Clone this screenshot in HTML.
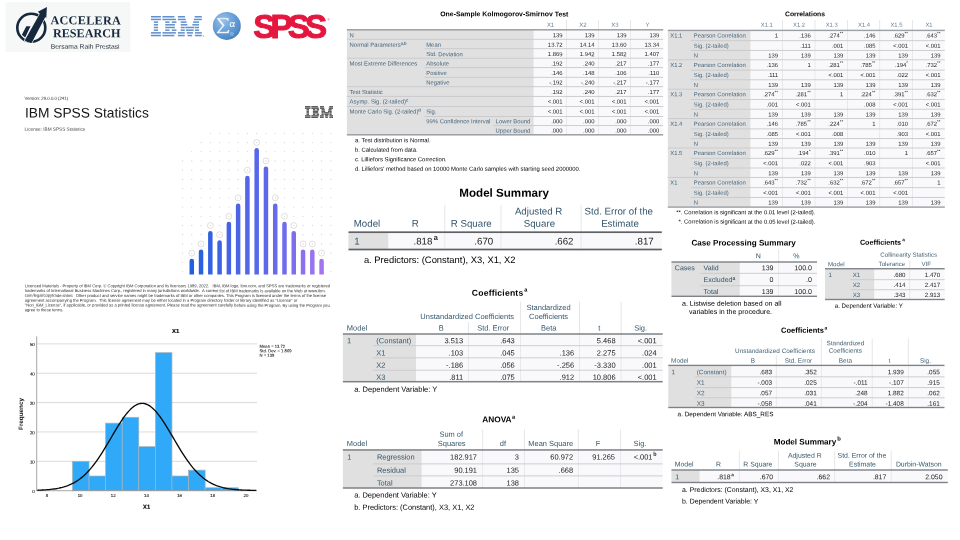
<!DOCTYPE html>
<html><head><meta charset="utf-8"><title>SPSS</title>
<style>
html,body{margin:0;padding:0;background:#fff;}
body{width:960px;height:540px;position:relative;overflow:hidden;font-family:"Liberation Sans",sans-serif;}
#pg{position:absolute;left:0;top:0;width:960px;height:540px;will-change:transform;}
.t{position:absolute;left:0;top:0;white-space:nowrap;transform-origin:0 0;}
.r{position:absolute;display:block;}
sup{font-size:70%;font-weight:bold;vertical-align:baseline;position:relative;top:-0.38em;line-height:0;}
</style></head><body><div id="pg">
<svg class="r" style="left:0;top:0" width="960" height="540" viewBox="0 0 960 540"><rect x="346.9" y="29.8" width="316.3" height="105.0" fill="#f9f9fb"/><rect x="346.9" y="29.8" width="186.7" height="105.0" fill="#e0e0e0"/><rect x="566.05" y="20" width="0.9" height="9.8" fill="#e4e4e6"/><rect x="566.05" y="29.8" width="0.9" height="105.0" fill="#e6e6ea"/><rect x="597.95" y="20" width="0.9" height="9.8" fill="#e4e4e6"/><rect x="597.95" y="29.8" width="0.9" height="105.0" fill="#e6e6ea"/><rect x="630.05" y="20" width="0.9" height="9.8" fill="#e4e4e6"/><rect x="630.05" y="29.8" width="0.9" height="105.0" fill="#e6e6ea"/><rect x="346.9" y="38.85" width="316.3" height="0.9" fill="#c9c9cb"/><rect x="424.5" y="48.25" width="238.7" height="0.9" fill="#c9c9cb"/><rect x="346.9" y="57.75" width="316.3" height="0.9" fill="#c9c9cb"/><rect x="424.5" y="67.15" width="238.7" height="0.9" fill="#c9c9cb"/><rect x="424.5" y="76.85" width="238.7" height="0.9" fill="#c9c9cb"/><rect x="346.9" y="86.25" width="316.3" height="0.9" fill="#c9c9cb"/><rect x="346.9" y="95.95" width="316.3" height="0.9" fill="#c9c9cb"/><rect x="346.9" y="106.0" width="316.3" height="0.9" fill="#c9c9cb"/><rect x="424.5" y="116.05" width="238.7" height="0.9" fill="#c9c9cb"/><rect x="493.5" y="125.15" width="169.7" height="0.9" fill="#c9c9cb"/><rect x="346.9" y="29.05" width="316.3" height="1.5" fill="#9ca0a4"/><rect x="346.9" y="134.05" width="316.3" height="1.5" fill="#9ca0a4"/><rect x="348.5" y="232.2" width="313.3" height="17.3" fill="#f9f9fb"/><rect x="348.5" y="232.2" width="39.7" height="17.3" fill="#e0e0e0"/><rect x="444.35" y="204.8" width="0.9" height="27.4" fill="#e4e4e6"/><rect x="444.35" y="232.2" width="0.9" height="17.3" fill="#e6e6ea"/><rect x="500.55" y="204.8" width="0.9" height="27.4" fill="#e4e4e6"/><rect x="500.55" y="232.2" width="0.9" height="17.3" fill="#e6e6ea"/><rect x="580.65" y="204.8" width="0.9" height="27.4" fill="#e4e4e6"/><rect x="580.65" y="232.2" width="0.9" height="17.3" fill="#e6e6ea"/><rect x="348.5" y="231.35" width="313.3" height="1.7" fill="#5e6266"/><rect x="348.5" y="248.65" width="313.3" height="1.7" fill="#5e6266"/><rect x="342.9" y="334.0" width="319.8" height="47.7" fill="#f9f9fb"/><rect x="342.9" y="334.0" width="73.1" height="47.7" fill="#e0e0e0"/><rect x="468.05" y="322" width="0.9" height="12.0" fill="#e4e4e6"/><rect x="468.05" y="334.0" width="0.9" height="47.7" fill="#e6e6ea"/><rect x="520.15" y="301.5" width="0.9" height="32.5" fill="#e4e4e6"/><rect x="520.15" y="334.0" width="0.9" height="47.7" fill="#e6e6ea"/><rect x="579.05" y="301.5" width="0.9" height="32.5" fill="#e4e4e6"/><rect x="579.05" y="334.0" width="0.9" height="47.7" fill="#e6e6ea"/><rect x="620.65" y="301.5" width="0.9" height="32.5" fill="#e4e4e6"/><rect x="620.65" y="334.0" width="0.9" height="47.7" fill="#e6e6ea"/><rect x="372.7" y="345.25" width="290.0" height="0.9" fill="#c9c9cb"/><rect x="372.7" y="357.4" width="290.0" height="0.9" fill="#c9c9cb"/><rect x="372.7" y="369.75" width="290.0" height="0.9" fill="#c9c9cb"/><rect x="342.9" y="333.25" width="319.8" height="1.5" fill="#7e8286"/><rect x="342.9" y="380.95" width="319.8" height="1.5" fill="#7e8286"/><rect x="342.9" y="449.95" width="319.8" height="38.05" fill="#f9f9fb"/><rect x="342.9" y="449.95" width="78.7" height="38.05" fill="#e0e0e0"/><rect x="482.25" y="429.4" width="0.9" height="20.55" fill="#e4e4e6"/><rect x="482.25" y="449.95" width="0.9" height="38.05" fill="#e6e6ea"/><rect x="523.95" y="429.4" width="0.9" height="20.55" fill="#e4e4e6"/><rect x="523.95" y="449.95" width="0.9" height="38.05" fill="#e6e6ea"/><rect x="577.85" y="429.4" width="0.9" height="20.55" fill="#e4e4e6"/><rect x="577.85" y="449.95" width="0.9" height="38.05" fill="#e6e6ea"/><rect x="620.15" y="429.4" width="0.9" height="20.55" fill="#e4e4e6"/><rect x="620.15" y="449.95" width="0.9" height="38.05" fill="#e6e6ea"/><rect x="373" y="463.45" width="289.7" height="0.9" fill="#c9c9cb"/><rect x="373" y="475.45" width="289.7" height="0.9" fill="#c9c9cb"/><rect x="342.9" y="449.2" width="319.8" height="1.5" fill="#7e8286"/><rect x="342.9" y="487.25" width="319.8" height="1.5" fill="#7e8286"/><rect x="667.8" y="30.4" width="277.0" height="176.7" fill="#f9f9fb"/><rect x="667.8" y="30.4" width="82.6" height="176.7" fill="#e0e0e0"/><rect x="781.95" y="20" width="0.9" height="10.4" fill="#e4e4e6"/><rect x="781.95" y="30.4" width="0.9" height="176.7" fill="#e6e6ea"/><rect x="814.55" y="20" width="0.9" height="10.4" fill="#e4e4e6"/><rect x="814.55" y="30.4" width="0.9" height="176.7" fill="#e6e6ea"/><rect x="847.15" y="20" width="0.9" height="10.4" fill="#e4e4e6"/><rect x="847.15" y="30.4" width="0.9" height="176.7" fill="#e6e6ea"/><rect x="879.25" y="20" width="0.9" height="10.4" fill="#e4e4e6"/><rect x="879.25" y="30.4" width="0.9" height="176.7" fill="#e6e6ea"/><rect x="911.95" y="20" width="0.9" height="10.4" fill="#e4e4e6"/><rect x="911.95" y="30.4" width="0.9" height="176.7" fill="#e6e6ea"/><rect x="690.8" y="40.25" width="254.0" height="0.9" fill="#c9c9cb"/><rect x="690.8" y="49.95" width="254.0" height="0.9" fill="#c9c9cb"/><rect x="667.8" y="59.35" width="277.0" height="0.9" fill="#c9c9cb"/><rect x="690.8" y="69.65" width="254.0" height="0.9" fill="#c9c9cb"/><rect x="690.8" y="79.35" width="254.0" height="0.9" fill="#c9c9cb"/><rect x="667.8" y="88.75" width="277.0" height="0.9" fill="#c9c9cb"/><rect x="690.8" y="99.05" width="254.0" height="0.9" fill="#c9c9cb"/><rect x="690.8" y="108.75" width="254.0" height="0.9" fill="#c9c9cb"/><rect x="667.8" y="118.15" width="277.0" height="0.9" fill="#c9c9cb"/><rect x="690.8" y="128.45" width="254.0" height="0.9" fill="#c9c9cb"/><rect x="690.8" y="138.15" width="254.0" height="0.9" fill="#c9c9cb"/><rect x="667.8" y="147.55" width="277.0" height="0.9" fill="#c9c9cb"/><rect x="690.8" y="157.85" width="254.0" height="0.9" fill="#c9c9cb"/><rect x="690.8" y="167.55" width="254.0" height="0.9" fill="#c9c9cb"/><rect x="667.8" y="176.95" width="277.0" height="0.9" fill="#c9c9cb"/><rect x="690.8" y="187.25" width="254.0" height="0.9" fill="#c9c9cb"/><rect x="690.8" y="196.95" width="254.0" height="0.9" fill="#c9c9cb"/><rect x="667.8" y="29.7" width="277.0" height="1.4" fill="#9ca0a4"/><rect x="667.8" y="206.4" width="277.0" height="1.4" fill="#9ca0a4"/><rect x="671.5" y="262.0" width="145.5" height="34.3" fill="#f9f9fb"/><rect x="671.5" y="262.0" width="68.3" height="34.3" fill="#e0e0e0"/><rect x="778.25" y="249.5" width="0.9" height="12.5" fill="#e4e4e6"/><rect x="778.25" y="262.0" width="0.9" height="34.3" fill="#e6e6ea"/><rect x="700.3" y="272.85" width="116.7" height="0.9" fill="#c9c9cb"/><rect x="700.3" y="285.25" width="116.7" height="0.9" fill="#c9c9cb"/><rect x="671.5" y="261.3" width="145.5" height="1.4" fill="#7e8286"/><rect x="671.5" y="295.6" width="145.5" height="1.4" fill="#7e8286"/><rect x="825.0" y="268.75" width="119.7" height="30.75" fill="#f9f9fb"/><rect x="825.0" y="268.75" width="49.2" height="30.75" fill="#e0e0e0"/><rect x="909.3" y="260.5" width="0.9" height="8.25" fill="#e4e4e6"/><rect x="909.3" y="268.75" width="0.9" height="30.75" fill="#e6e6ea"/><rect x="850.2" y="279.25" width="94.5" height="0.9" fill="#c9c9cb"/><rect x="850.2" y="289.3" width="94.5" height="0.9" fill="#c9c9cb"/><rect x="825.0" y="268.07" width="119.7" height="1.35" fill="#7e8286"/><rect x="825.0" y="298.82" width="119.7" height="1.35" fill="#7e8286"/><rect x="668.3" y="365.4" width="276.2" height="42.1" fill="#f9f9fb"/><rect x="668.3" y="365.4" width="63.0" height="42.1" fill="#e0e0e0"/><rect x="775.85" y="355.2" width="0.9" height="10.2" fill="#e4e4e6"/><rect x="775.85" y="365.4" width="0.9" height="42.1" fill="#e6e6ea"/><rect x="820.85" y="338.5" width="0.9" height="26.9" fill="#e4e4e6"/><rect x="820.85" y="365.4" width="0.9" height="42.1" fill="#e6e6ea"/><rect x="871.75" y="338.5" width="0.9" height="26.9" fill="#e4e4e6"/><rect x="871.75" y="365.4" width="0.9" height="42.1" fill="#e6e6ea"/><rect x="907.85" y="338.5" width="0.9" height="26.9" fill="#e4e4e6"/><rect x="907.85" y="365.4" width="0.9" height="42.1" fill="#e6e6ea"/><rect x="695.2" y="376.4" width="249.3" height="0.9" fill="#c9c9cb"/><rect x="695.2" y="387.15" width="249.3" height="0.9" fill="#c9c9cb"/><rect x="695.2" y="397.35" width="249.3" height="0.9" fill="#c9c9cb"/><rect x="668.3" y="364.72" width="276.2" height="1.35" fill="#7e8286"/><rect x="668.3" y="406.82" width="276.2" height="1.35" fill="#7e8286"/><rect x="671.5" y="470.0" width="276.3" height="12.5" fill="#f9f9fb"/><rect x="671.5" y="470.0" width="28.0" height="12.5" fill="#e0e0e0"/><rect x="738.85" y="450.8" width="0.9" height="19.2" fill="#e4e4e6"/><rect x="738.85" y="470.0" width="0.9" height="12.5" fill="#e6e6ea"/><rect x="778.05" y="450.8" width="0.9" height="19.2" fill="#e4e4e6"/><rect x="778.05" y="470.0" width="0.9" height="12.5" fill="#e6e6ea"/><rect x="834.25" y="450.8" width="0.9" height="19.2" fill="#e4e4e6"/><rect x="834.25" y="470.0" width="0.9" height="12.5" fill="#e6e6ea"/><rect x="890.75" y="450.8" width="0.9" height="19.2" fill="#e4e4e6"/><rect x="890.75" y="470.0" width="0.9" height="12.5" fill="#e6e6ea"/><rect x="671.5" y="469.3" width="276.3" height="1.4" fill="#7e8286"/><rect x="671.5" y="481.8" width="276.3" height="1.4" fill="#7e8286"/><rect x="5.5" y="1.9" width="124.8" height="49.9" fill="#f6f7f7"/></svg>
<span class="t" style="font-size:6.9px;line-height:8.28px;color:#000;font-weight:bold;transform:translate(504.3px,10.32px) translateX(-50%) matrix(1,0.0005,0,1,0,0);">One-Sample Kolmogorov-Smirnov Test</span>
<span class="t" style="font-size:5.9px;line-height:7.08px;color:#647c8d;transform:translate(550.55px,21.87px) translateX(-50%) matrix(1,0.0005,0,1,0,0);">X1</span>
<span class="t" style="font-size:5.9px;line-height:7.08px;color:#647c8d;transform:translate(582.95px,21.87px) translateX(-50%) matrix(1,0.0005,0,1,0,0);">X2</span>
<span class="t" style="font-size:5.9px;line-height:7.08px;color:#647c8d;transform:translate(614.95px,21.87px) translateX(-50%) matrix(1,0.0005,0,1,0,0);">X3</span>
<span class="t" style="font-size:5.9px;line-height:7.08px;color:#647c8d;transform:translate(647.35px,21.87px) translateX(-50%) matrix(1,0.0005,0,1,0,0);">Y</span>
<span class="t" style="font-size:5.9px;line-height:7.08px;color:#45647a;transform:translate(349.6px,32.27px) matrix(1,0.0005,0,1,0,0);">N</span>
<span class="t" style="font-size:5.9px;line-height:7.08px;color:#1a1a1a;transform:translate(562.6px,32.27px) translateX(-100%) matrix(1,0.0005,0,1,0,0);">139</span>
<span class="t" style="font-size:5.9px;line-height:7.08px;color:#1a1a1a;transform:translate(594.5px,32.27px) translateX(-100%) matrix(1,0.0005,0,1,0,0);">139</span>
<span class="t" style="font-size:5.9px;line-height:7.08px;color:#1a1a1a;transform:translate(626.6px,32.27px) translateX(-100%) matrix(1,0.0005,0,1,0,0);">139</span>
<span class="t" style="font-size:5.9px;line-height:7.08px;color:#1a1a1a;transform:translate(659.3px,32.27px) translateX(-100%) matrix(1,0.0005,0,1,0,0);">139</span>
<span class="t" style="font-size:5.9px;line-height:7.08px;color:#45647a;transform:translate(349.6px,41.67px) matrix(1,0.0005,0,1,0,0);">Normal Parameters<sup>a,b</sup></span>
<span class="t" style="font-size:5.9px;line-height:7.08px;color:#45647a;transform:translate(426.2px,41.67px) matrix(1,0.0005,0,1,0,0);">Mean</span>
<span class="t" style="font-size:5.9px;line-height:7.08px;color:#1a1a1a;transform:translate(562.6px,41.67px) translateX(-100%) matrix(1,0.0005,0,1,0,0);">13.72</span>
<span class="t" style="font-size:5.9px;line-height:7.08px;color:#1a1a1a;transform:translate(594.5px,41.67px) translateX(-100%) matrix(1,0.0005,0,1,0,0);">14.14</span>
<span class="t" style="font-size:5.9px;line-height:7.08px;color:#1a1a1a;transform:translate(626.6px,41.67px) translateX(-100%) matrix(1,0.0005,0,1,0,0);">13.60</span>
<span class="t" style="font-size:5.9px;line-height:7.08px;color:#1a1a1a;transform:translate(659.3px,41.67px) translateX(-100%) matrix(1,0.0005,0,1,0,0);">13.34</span>
<span class="t" style="font-size:5.9px;line-height:7.08px;color:#45647a;transform:translate(426.2px,51.12px) matrix(1,0.0005,0,1,0,0);">Std. Deviation</span>
<span class="t" style="font-size:5.9px;line-height:7.08px;color:#1a1a1a;transform:translate(562.6px,51.12px) translateX(-100%) matrix(1,0.0005,0,1,0,0);">1.869</span>
<span class="t" style="font-size:5.9px;line-height:7.08px;color:#1a1a1a;transform:translate(594.5px,51.12px) translateX(-100%) matrix(1,0.0005,0,1,0,0);">1.942</span>
<span class="t" style="font-size:5.9px;line-height:7.08px;color:#1a1a1a;transform:translate(626.6px,51.12px) translateX(-100%) matrix(1,0.0005,0,1,0,0);">1.582</span>
<span class="t" style="font-size:5.9px;line-height:7.08px;color:#1a1a1a;transform:translate(659.3px,51.12px) translateX(-100%) matrix(1,0.0005,0,1,0,0);">1.407</span>
<span class="t" style="font-size:5.9px;line-height:7.08px;color:#45647a;transform:translate(349.6px,60.57px) matrix(1,0.0005,0,1,0,0);">Most Extreme Differences</span>
<span class="t" style="font-size:5.9px;line-height:7.08px;color:#45647a;transform:translate(426.2px,60.57px) matrix(1,0.0005,0,1,0,0);">Absolute</span>
<span class="t" style="font-size:5.9px;line-height:7.08px;color:#1a1a1a;transform:translate(562.6px,60.57px) translateX(-100%) matrix(1,0.0005,0,1,0,0);">.192</span>
<span class="t" style="font-size:5.9px;line-height:7.08px;color:#1a1a1a;transform:translate(594.5px,60.57px) translateX(-100%) matrix(1,0.0005,0,1,0,0);">.240</span>
<span class="t" style="font-size:5.9px;line-height:7.08px;color:#1a1a1a;transform:translate(626.6px,60.57px) translateX(-100%) matrix(1,0.0005,0,1,0,0);">.217</span>
<span class="t" style="font-size:5.9px;line-height:7.08px;color:#1a1a1a;transform:translate(659.3px,60.57px) translateX(-100%) matrix(1,0.0005,0,1,0,0);">.177</span>
<span class="t" style="font-size:5.9px;line-height:7.08px;color:#45647a;transform:translate(426.2px,69.97px) matrix(1,0.0005,0,1,0,0);">Positive</span>
<span class="t" style="font-size:5.9px;line-height:7.08px;color:#1a1a1a;transform:translate(562.6px,69.97px) translateX(-100%) matrix(1,0.0005,0,1,0,0);">.146</span>
<span class="t" style="font-size:5.9px;line-height:7.08px;color:#1a1a1a;transform:translate(594.5px,69.97px) translateX(-100%) matrix(1,0.0005,0,1,0,0);">.148</span>
<span class="t" style="font-size:5.9px;line-height:7.08px;color:#1a1a1a;transform:translate(626.6px,69.97px) translateX(-100%) matrix(1,0.0005,0,1,0,0);">.106</span>
<span class="t" style="font-size:5.9px;line-height:7.08px;color:#1a1a1a;transform:translate(659.3px,69.97px) translateX(-100%) matrix(1,0.0005,0,1,0,0);">.110</span>
<span class="t" style="font-size:5.9px;line-height:7.08px;color:#45647a;transform:translate(426.2px,79.47px) matrix(1,0.0005,0,1,0,0);">Negative</span>
<span class="t" style="font-size:5.9px;line-height:7.08px;color:#1a1a1a;transform:translate(562.6px,79.47px) translateX(-100%) matrix(1,0.0005,0,1,0,0);">-.192</span>
<span class="t" style="font-size:5.9px;line-height:7.08px;color:#1a1a1a;transform:translate(594.5px,79.47px) translateX(-100%) matrix(1,0.0005,0,1,0,0);">-.240</span>
<span class="t" style="font-size:5.9px;line-height:7.08px;color:#1a1a1a;transform:translate(626.6px,79.47px) translateX(-100%) matrix(1,0.0005,0,1,0,0);">-.217</span>
<span class="t" style="font-size:5.9px;line-height:7.08px;color:#1a1a1a;transform:translate(659.3px,79.47px) translateX(-100%) matrix(1,0.0005,0,1,0,0);">-.177</span>
<span class="t" style="font-size:5.9px;line-height:7.08px;color:#45647a;transform:translate(349.6px,89.07px) matrix(1,0.0005,0,1,0,0);">Test Statistic</span>
<span class="t" style="font-size:5.9px;line-height:7.08px;color:#1a1a1a;transform:translate(562.6px,89.07px) translateX(-100%) matrix(1,0.0005,0,1,0,0);">.192</span>
<span class="t" style="font-size:5.9px;line-height:7.08px;color:#1a1a1a;transform:translate(594.5px,89.07px) translateX(-100%) matrix(1,0.0005,0,1,0,0);">.240</span>
<span class="t" style="font-size:5.9px;line-height:7.08px;color:#1a1a1a;transform:translate(626.6px,89.07px) translateX(-100%) matrix(1,0.0005,0,1,0,0);">.217</span>
<span class="t" style="font-size:5.9px;line-height:7.08px;color:#1a1a1a;transform:translate(659.3px,89.07px) translateX(-100%) matrix(1,0.0005,0,1,0,0);">.177</span>
<span class="t" style="font-size:5.9px;line-height:7.08px;color:#45647a;transform:translate(349.6px,98.57px) matrix(1,0.0005,0,1,0,0);">Asymp. Sig. (2-tailed)<sup>c</sup></span>
<span class="t" style="font-size:5.9px;line-height:7.08px;color:#1a1a1a;transform:translate(562.6px,98.57px) translateX(-100%) matrix(1,0.0005,0,1,0,0);">&lt;.001</span>
<span class="t" style="font-size:5.9px;line-height:7.08px;color:#1a1a1a;transform:translate(594.5px,98.57px) translateX(-100%) matrix(1,0.0005,0,1,0,0);">&lt;.001</span>
<span class="t" style="font-size:5.9px;line-height:7.08px;color:#1a1a1a;transform:translate(626.6px,98.57px) translateX(-100%) matrix(1,0.0005,0,1,0,0);">&lt;.001</span>
<span class="t" style="font-size:5.9px;line-height:7.08px;color:#1a1a1a;transform:translate(659.3px,98.57px) translateX(-100%) matrix(1,0.0005,0,1,0,0);">&lt;.001</span>
<span class="t" style="font-size:5.9px;line-height:7.08px;color:#45647a;transform:translate(349.6px,108.57px) matrix(1,0.0005,0,1,0,0);">Monte Carlo Sig. (2-tailed)<sup>d</sup></span>
<span class="t" style="font-size:5.9px;line-height:7.08px;color:#45647a;transform:translate(426.2px,108.57px) matrix(1,0.0005,0,1,0,0);">Sig.</span>
<span class="t" style="font-size:5.9px;line-height:7.08px;color:#1a1a1a;transform:translate(562.6px,108.57px) translateX(-100%) matrix(1,0.0005,0,1,0,0);">&lt;.001</span>
<span class="t" style="font-size:5.9px;line-height:7.08px;color:#1a1a1a;transform:translate(594.5px,108.57px) translateX(-100%) matrix(1,0.0005,0,1,0,0);">&lt;.001</span>
<span class="t" style="font-size:5.9px;line-height:7.08px;color:#1a1a1a;transform:translate(626.6px,108.57px) translateX(-100%) matrix(1,0.0005,0,1,0,0);">&lt;.001</span>
<span class="t" style="font-size:5.9px;line-height:7.08px;color:#1a1a1a;transform:translate(659.3px,108.57px) translateX(-100%) matrix(1,0.0005,0,1,0,0);">&lt;.001</span>
<span class="t" style="font-size:5.9px;line-height:7.08px;color:#45647a;transform:translate(426.2px,118.17px) matrix(1,0.0005,0,1,0,0);">99% Confidence Interval</span>
<span class="t" style="font-size:5.9px;line-height:7.08px;color:#45647a;transform:translate(495.6px,118.17px) matrix(1,0.0005,0,1,0,0);">Lower Bound</span>
<span class="t" style="font-size:5.9px;line-height:7.08px;color:#1a1a1a;transform:translate(562.6px,118.17px) translateX(-100%) matrix(1,0.0005,0,1,0,0);">.000</span>
<span class="t" style="font-size:5.9px;line-height:7.08px;color:#1a1a1a;transform:translate(594.5px,118.17px) translateX(-100%) matrix(1,0.0005,0,1,0,0);">.000</span>
<span class="t" style="font-size:5.9px;line-height:7.08px;color:#1a1a1a;transform:translate(626.6px,118.17px) translateX(-100%) matrix(1,0.0005,0,1,0,0);">.000</span>
<span class="t" style="font-size:5.9px;line-height:7.08px;color:#1a1a1a;transform:translate(659.3px,118.17px) translateX(-100%) matrix(1,0.0005,0,1,0,0);">.000</span>
<span class="t" style="font-size:5.9px;line-height:7.08px;color:#45647a;transform:translate(495.6px,127.62px) matrix(1,0.0005,0,1,0,0);">Upper Bound</span>
<span class="t" style="font-size:5.9px;line-height:7.08px;color:#1a1a1a;transform:translate(562.6px,127.62px) translateX(-100%) matrix(1,0.0005,0,1,0,0);">.000</span>
<span class="t" style="font-size:5.9px;line-height:7.08px;color:#1a1a1a;transform:translate(594.5px,127.62px) translateX(-100%) matrix(1,0.0005,0,1,0,0);">.000</span>
<span class="t" style="font-size:5.9px;line-height:7.08px;color:#1a1a1a;transform:translate(626.6px,127.62px) translateX(-100%) matrix(1,0.0005,0,1,0,0);">.000</span>
<span class="t" style="font-size:5.9px;line-height:7.08px;color:#1a1a1a;transform:translate(659.3px,127.62px) translateX(-100%) matrix(1,0.0005,0,1,0,0);">.000</span>
<span class="t" style="font-size:5.9px;line-height:7.08px;color:#000;transform:translate(355px,137.17px) matrix(1,0.0005,0,1,0,0);">a. Test distribution is Normal.</span>
<span class="t" style="font-size:5.9px;line-height:7.08px;color:#000;transform:translate(355px,146.7px) matrix(1,0.0005,0,1,0,0);">b. Calculated from data.</span>
<span class="t" style="font-size:5.9px;line-height:7.08px;color:#000;transform:translate(355px,156.23px) matrix(1,0.0005,0,1,0,0);">c. Lilliefors Significance Correction.</span>
<span class="t" style="font-size:5.9px;line-height:7.08px;color:#000;transform:translate(355px,165.76px) matrix(1,0.0005,0,1,0,0);">d. Lilliefors' method based on 10000 Monte Carlo samples with starting seed 2000000.</span>
<span class="t" style="font-size:11.6px;line-height:13.92px;color:#000;font-weight:bold;transform:translate(504.1px,185.71px) translateX(-50%) matrix(1,0.0005,0,1,0,0);">Model Summary</span>
<span class="t" style="font-size:9.7px;line-height:11.64px;color:#33566d;transform:translate(353.8px,217.71px) matrix(1,0.0005,0,1,0,0);">Model</span>
<span class="t" style="font-size:9.7px;line-height:11.64px;color:#33566d;transform:translate(415.3px,217.71px) translateX(-50%) matrix(1,0.0005,0,1,0,0);">R</span>
<span class="t" style="font-size:9.7px;line-height:11.64px;color:#33566d;transform:translate(471.3px,217.71px) translateX(-50%) matrix(1,0.0005,0,1,0,0);">R Square</span>
<span class="t" style="font-size:9.7px;line-height:11.64px;color:#33566d;transform:translate(538.6px,205.51px) translateX(-50%) matrix(1,0.0005,0,1,0,0);">Adjusted R</span>
<span class="t" style="font-size:9.7px;line-height:11.64px;color:#33566d;transform:translate(539.4px,217.71px) translateX(-50%) matrix(1,0.0005,0,1,0,0);">Square</span>
<span class="t" style="font-size:9.7px;line-height:11.64px;color:#33566d;transform:translate(618.8px,205.51px) translateX(-50%) matrix(1,0.0005,0,1,0,0);">Std. Error of the</span>
<span class="t" style="font-size:9.7px;line-height:11.64px;color:#33566d;transform:translate(620.0px,217.71px) translateX(-50%) matrix(1,0.0005,0,1,0,0);">Estimate</span>
<span class="t" style="font-size:9.7px;line-height:11.64px;color:#33566d;transform:translate(354.3px,235.61px) matrix(1,0.0005,0,1,0,0);">1</span>
<span class="t" style="font-size:9.7px;line-height:11.64px;color:#1a1a1a;transform:translate(432.4px,235.61px) translateX(-100%) matrix(1,0.0005,0,1,0,0);">.818</span>
<span class="t" style="font-size:7.4px;line-height:8.88px;color:#1a1a1a;font-weight:bold;transform:translate(433.7px,233.96px) matrix(1,0.0005,0,1,0,0);">a</span>
<span class="t" style="font-size:9.7px;line-height:11.64px;color:#1a1a1a;transform:translate(493.2px,235.61px) translateX(-100%) matrix(1,0.0005,0,1,0,0);">.670</span>
<span class="t" style="font-size:9.7px;line-height:11.64px;color:#1a1a1a;transform:translate(573.5px,235.61px) translateX(-100%) matrix(1,0.0005,0,1,0,0);">.662</span>
<span class="t" style="font-size:9.7px;line-height:11.64px;color:#1a1a1a;transform:translate(653.7px,235.61px) translateX(-100%) matrix(1,0.0005,0,1,0,0);">.817</span>
<span class="t" style="font-size:9.4px;line-height:11.28px;color:#000;transform:translate(363.9px,253.97px) matrix(1,0.0005,0,1,0,0);">a. Predictors: (Constant), X3, X1, X2</span>
<span class="t" style="font-size:8.6px;line-height:10.32px;color:#000;font-weight:bold;transform:translate(497.6px,287.75px) translateX(-50%) matrix(1,0.0005,0,1,0,0);letter-spacing:0.2px;">Coefficients</span>
<span class="t" style="font-size:5.6px;line-height:6.72px;color:#000;font-weight:bold;transform:translate(524.3px,286.5px) matrix(1,0.0005,0,1,0,0);">a</span>
<span class="t" style="font-size:7.5px;line-height:9.0px;color:#33566d;transform:translate(346.8px,323.43px) matrix(1,0.0005,0,1,0,0);">Model</span>
<span class="t" style="font-size:7.5px;line-height:9.0px;color:#33566d;transform:translate(467.2px,311.93px) translateX(-50%) matrix(1,0.0005,0,1,0,0);">Unstandardized Coefficients</span>
<span class="t" style="font-size:7.5px;line-height:9.0px;color:#33566d;transform:translate(548.6px,302.93px) translateX(-50%) matrix(1,0.0005,0,1,0,0);">Standardized</span>
<span class="t" style="font-size:7.5px;line-height:9.0px;color:#33566d;transform:translate(548.6px,311.93px) translateX(-50%) matrix(1,0.0005,0,1,0,0);">Coefficients</span>
<span class="t" style="font-size:7.5px;line-height:9.0px;color:#33566d;transform:translate(441.2px,323.43px) translateX(-50%) matrix(1,0.0005,0,1,0,0);">B</span>
<span class="t" style="font-size:7.5px;line-height:9.0px;color:#33566d;transform:translate(493.2px,323.43px) translateX(-50%) matrix(1,0.0005,0,1,0,0);">Std. Error</span>
<span class="t" style="font-size:7.5px;line-height:9.0px;color:#33566d;transform:translate(548.7px,323.43px) translateX(-50%) matrix(1,0.0005,0,1,0,0);">Beta</span>
<span class="t" style="font-size:7.5px;line-height:9.0px;color:#33566d;transform:translate(599.3px,323.43px) translateX(-50%) matrix(1,0.0005,0,1,0,0);">t</span>
<span class="t" style="font-size:7.5px;line-height:9.0px;color:#33566d;transform:translate(640.6px,323.43px) translateX(-50%) matrix(1,0.0005,0,1,0,0);">Sig.</span>
<span class="t" style="font-size:7.5px;line-height:9.0px;color:#33566d;transform:translate(347.0px,336.13px) matrix(1,0.0005,0,1,0,0);">1</span>
<span class="t" style="font-size:7.5px;line-height:9.0px;color:#33566d;transform:translate(376.3px,336.13px) matrix(1,0.0005,0,1,0,0);">(Constant)</span>
<span class="t" style="font-size:7.5px;line-height:9.0px;color:#1a1a1a;transform:translate(463.2px,336.13px) translateX(-100%) matrix(1,0.0005,0,1,0,0);">3.513</span>
<span class="t" style="font-size:7.5px;line-height:9.0px;color:#1a1a1a;transform:translate(514.8px,336.13px) translateX(-100%) matrix(1,0.0005,0,1,0,0);">.643</span>
<span class="t" style="font-size:7.5px;line-height:9.0px;color:#1a1a1a;transform:translate(615.6px,336.13px) translateX(-100%) matrix(1,0.0005,0,1,0,0);">5.468</span>
<span class="t" style="font-size:7.5px;line-height:9.0px;color:#1a1a1a;transform:translate(656.7px,336.13px) translateX(-100%) matrix(1,0.0005,0,1,0,0);">&lt;.001</span>
<span class="t" style="font-size:7.5px;line-height:9.0px;color:#33566d;transform:translate(376.3px,348.43px) matrix(1,0.0005,0,1,0,0);">X1</span>
<span class="t" style="font-size:7.5px;line-height:9.0px;color:#1a1a1a;transform:translate(463.2px,348.43px) translateX(-100%) matrix(1,0.0005,0,1,0,0);">.103</span>
<span class="t" style="font-size:7.5px;line-height:9.0px;color:#1a1a1a;transform:translate(514.8px,348.43px) translateX(-100%) matrix(1,0.0005,0,1,0,0);">.045</span>
<span class="t" style="font-size:7.5px;line-height:9.0px;color:#1a1a1a;transform:translate(574.2px,348.43px) translateX(-100%) matrix(1,0.0005,0,1,0,0);">.136</span>
<span class="t" style="font-size:7.5px;line-height:9.0px;color:#1a1a1a;transform:translate(615.6px,348.43px) translateX(-100%) matrix(1,0.0005,0,1,0,0);">2.275</span>
<span class="t" style="font-size:7.5px;line-height:9.0px;color:#1a1a1a;transform:translate(656.7px,348.43px) translateX(-100%) matrix(1,0.0005,0,1,0,0);">.024</span>
<span class="t" style="font-size:7.5px;line-height:9.0px;color:#33566d;transform:translate(376.3px,360.63px) matrix(1,0.0005,0,1,0,0);">X2</span>
<span class="t" style="font-size:7.5px;line-height:9.0px;color:#1a1a1a;transform:translate(463.2px,360.63px) translateX(-100%) matrix(1,0.0005,0,1,0,0);">-.186</span>
<span class="t" style="font-size:7.5px;line-height:9.0px;color:#1a1a1a;transform:translate(514.8px,360.63px) translateX(-100%) matrix(1,0.0005,0,1,0,0);">.056</span>
<span class="t" style="font-size:7.5px;line-height:9.0px;color:#1a1a1a;transform:translate(574.2px,360.63px) translateX(-100%) matrix(1,0.0005,0,1,0,0);">-.256</span>
<span class="t" style="font-size:7.5px;line-height:9.0px;color:#1a1a1a;transform:translate(615.6px,360.63px) translateX(-100%) matrix(1,0.0005,0,1,0,0);">-3.330</span>
<span class="t" style="font-size:7.5px;line-height:9.0px;color:#1a1a1a;transform:translate(656.7px,360.63px) translateX(-100%) matrix(1,0.0005,0,1,0,0);">.001</span>
<span class="t" style="font-size:7.5px;line-height:9.0px;color:#33566d;transform:translate(376.3px,372.63px) matrix(1,0.0005,0,1,0,0);">X3</span>
<span class="t" style="font-size:7.5px;line-height:9.0px;color:#1a1a1a;transform:translate(463.2px,372.63px) translateX(-100%) matrix(1,0.0005,0,1,0,0);">.811</span>
<span class="t" style="font-size:7.5px;line-height:9.0px;color:#1a1a1a;transform:translate(514.8px,372.63px) translateX(-100%) matrix(1,0.0005,0,1,0,0);">.075</span>
<span class="t" style="font-size:7.5px;line-height:9.0px;color:#1a1a1a;transform:translate(574.2px,372.63px) translateX(-100%) matrix(1,0.0005,0,1,0,0);">.912</span>
<span class="t" style="font-size:7.5px;line-height:9.0px;color:#1a1a1a;transform:translate(615.6px,372.63px) translateX(-100%) matrix(1,0.0005,0,1,0,0);">10.806</span>
<span class="t" style="font-size:7.5px;line-height:9.0px;color:#1a1a1a;transform:translate(656.7px,372.63px) translateX(-100%) matrix(1,0.0005,0,1,0,0);">&lt;.001</span>
<span class="t" style="font-size:7.5px;line-height:9.0px;color:#000;transform:translate(354.2px,384.73px) matrix(1,0.0005,0,1,0,0);">a. Dependent Variable: Y</span>
<span class="t" style="font-size:8.3px;line-height:9.96px;color:#000;font-weight:bold;transform:translate(496.9px,415.33px) translateX(-50%) matrix(1,0.0005,0,1,0,0);">ANOVA</span>
<span class="t" style="font-size:5.6px;line-height:6.72px;color:#000;font-weight:bold;transform:translate(511.9px,413.8px) matrix(1,0.0005,0,1,0,0);">a</span>
<span class="t" style="font-size:7.45px;line-height:8.94px;color:#33566d;transform:translate(346.8px,439.9px) matrix(1,0.0005,0,1,0,0);">Model</span>
<span class="t" style="font-size:7.45px;line-height:8.94px;color:#33566d;transform:translate(451.2px,430.8px) translateX(-50%) matrix(1,0.0005,0,1,0,0);">Sum of</span>
<span class="t" style="font-size:7.45px;line-height:8.94px;color:#33566d;transform:translate(451.7px,439.9px) translateX(-50%) matrix(1,0.0005,0,1,0,0);">Squares</span>
<span class="t" style="font-size:7.45px;line-height:8.94px;color:#33566d;transform:translate(502.9px,439.9px) translateX(-50%) matrix(1,0.0005,0,1,0,0);">df</span>
<span class="t" style="font-size:7.45px;line-height:8.94px;color:#33566d;transform:translate(550.7px,439.9px) translateX(-50%) matrix(1,0.0005,0,1,0,0);">Mean Square</span>
<span class="t" style="font-size:7.45px;line-height:8.94px;color:#33566d;transform:translate(597.9px,439.9px) translateX(-50%) matrix(1,0.0005,0,1,0,0);">F</span>
<span class="t" style="font-size:7.45px;line-height:8.94px;color:#33566d;transform:translate(640.0px,439.9px) translateX(-50%) matrix(1,0.0005,0,1,0,0);">Sig.</span>
<span class="t" style="font-size:7.45px;line-height:8.94px;color:#33566d;transform:translate(347.2px,453.5px) matrix(1,0.0005,0,1,0,0);">1</span>
<span class="t" style="font-size:7.45px;line-height:8.94px;color:#33566d;transform:translate(376.9px,453.5px) matrix(1,0.0005,0,1,0,0);">Regression</span>
<span class="t" style="font-size:7.45px;line-height:8.94px;color:#1a1a1a;transform:translate(477.0px,453.5px) translateX(-100%) matrix(1,0.0005,0,1,0,0);">182.917</span>
<span class="t" style="font-size:7.45px;line-height:8.94px;color:#1a1a1a;transform:translate(519.0px,453.5px) translateX(-100%) matrix(1,0.0005,0,1,0,0);">3</span>
<span class="t" style="font-size:7.45px;line-height:8.94px;color:#1a1a1a;transform:translate(573.1px,453.5px) translateX(-100%) matrix(1,0.0005,0,1,0,0);">60.972</span>
<span class="t" style="font-size:7.45px;line-height:8.94px;color:#1a1a1a;transform:translate(615.0px,453.5px) translateX(-100%) matrix(1,0.0005,0,1,0,0);">91.265</span>
<span class="t" style="font-size:7.45px;line-height:8.94px;color:#1a1a1a;transform:translate(652.5px,453.5px) translateX(-100%) matrix(1,0.0005,0,1,0,0);">&lt;.001</span>
<span class="t" style="font-size:7.45px;line-height:8.94px;color:#33566d;transform:translate(376.9px,466.85px) matrix(1,0.0005,0,1,0,0);">Residual</span>
<span class="t" style="font-size:7.45px;line-height:8.94px;color:#1a1a1a;transform:translate(477.0px,466.85px) translateX(-100%) matrix(1,0.0005,0,1,0,0);">90.191</span>
<span class="t" style="font-size:7.45px;line-height:8.94px;color:#1a1a1a;transform:translate(519.0px,466.85px) translateX(-100%) matrix(1,0.0005,0,1,0,0);">135</span>
<span class="t" style="font-size:7.45px;line-height:8.94px;color:#1a1a1a;transform:translate(573.1px,466.85px) translateX(-100%) matrix(1,0.0005,0,1,0,0);">.668</span>
<span class="t" style="font-size:7.45px;line-height:8.94px;color:#33566d;transform:translate(376.9px,479.4px) matrix(1,0.0005,0,1,0,0);">Total</span>
<span class="t" style="font-size:7.45px;line-height:8.94px;color:#1a1a1a;transform:translate(477.0px,479.4px) translateX(-100%) matrix(1,0.0005,0,1,0,0);">273.108</span>
<span class="t" style="font-size:7.45px;line-height:8.94px;color:#1a1a1a;transform:translate(519.0px,479.4px) translateX(-100%) matrix(1,0.0005,0,1,0,0);">138</span>
<span class="t" style="font-size:5.4px;line-height:6.48px;color:#1a1a1a;font-weight:bold;transform:translate(653.3px,450.84px) matrix(1,0.0005,0,1,0,0);">b</span>
<span class="t" style="font-size:7.45px;line-height:8.94px;color:#000;transform:translate(354.2px,491.5px) matrix(1,0.0005,0,1,0,0);">a. Dependent Variable: Y</span>
<span class="t" style="font-size:7.45px;line-height:8.94px;color:#000;transform:translate(354.2px,503.8px) matrix(1,0.0005,0,1,0,0);">b. Predictors: (Constant), X3, X1, X2</span>
<span class="t" style="font-size:6.8px;line-height:8.16px;color:#000;font-weight:bold;transform:translate(805px,10.25px) translateX(-50%) matrix(1,0.0005,0,1,0,0);">Correlations</span>
<span class="t" style="font-size:5.85px;line-height:7.02px;color:#647c8d;transform:translate(766.8px,21.65px) translateX(-50%) matrix(1,0.0005,0,1,0,0);">X1.1</span>
<span class="t" style="font-size:5.85px;line-height:7.02px;color:#647c8d;transform:translate(799.1px,21.65px) translateX(-50%) matrix(1,0.0005,0,1,0,0);">X1.2</span>
<span class="t" style="font-size:5.85px;line-height:7.02px;color:#647c8d;transform:translate(831.7px,21.65px) translateX(-50%) matrix(1,0.0005,0,1,0,0);">X1.3</span>
<span class="t" style="font-size:5.85px;line-height:7.02px;color:#647c8d;transform:translate(864.05px,21.65px) translateX(-50%) matrix(1,0.0005,0,1,0,0);">X1.4</span>
<span class="t" style="font-size:5.85px;line-height:7.02px;color:#647c8d;transform:translate(896.45px,21.65px) translateX(-50%) matrix(1,0.0005,0,1,0,0);">X1.5</span>
<span class="t" style="font-size:5.85px;line-height:7.02px;color:#647c8d;transform:translate(929.0px,21.65px) translateX(-50%) matrix(1,0.0005,0,1,0,0);">X1</span>
<span class="t" style="font-size:5.85px;line-height:7.02px;color:#45647a;transform:translate(670.3px,32.5px) matrix(1,0.0005,0,1,0,0);">X1.1</span>
<span class="t" style="font-size:5.85px;line-height:7.02px;color:#45647a;transform:translate(693.85px,32.5px) matrix(1,0.0005,0,1,0,0);">Pearson Correlation</span>
<span class="t" style="font-size:5.85px;line-height:7.02px;color:#1a1a1a;transform:translate(778.1px,32.5px) translateX(-100%) matrix(1,0.0005,0,1,0,0);">1</span>
<span class="t" style="font-size:5.85px;line-height:7.02px;color:#1a1a1a;transform:translate(810.7px,32.5px) translateX(-100%) matrix(1,0.0005,0,1,0,0);">.136</span>
<span class="t" style="font-size:5.85px;line-height:7.02px;color:#1a1a1a;transform:translate(839.7px,32.5px) translateX(-100%) matrix(1,0.0005,0,1,0,0);">.274</span>
<span class="t" style="font-size:4.4px;line-height:5.28px;color:#1a1a1a;transform:translate(839.8px,30.85px) matrix(1,0.0005,0,1,0,0);">**</span>
<span class="t" style="font-size:5.85px;line-height:7.02px;color:#1a1a1a;transform:translate(875.4px,32.5px) translateX(-100%) matrix(1,0.0005,0,1,0,0);">.146</span>
<span class="t" style="font-size:5.85px;line-height:7.02px;color:#1a1a1a;transform:translate(904.5px,32.5px) translateX(-100%) matrix(1,0.0005,0,1,0,0);">.629</span>
<span class="t" style="font-size:4.4px;line-height:5.28px;color:#1a1a1a;transform:translate(904.6px,30.85px) matrix(1,0.0005,0,1,0,0);">**</span>
<span class="t" style="font-size:5.85px;line-height:7.02px;color:#1a1a1a;transform:translate(936.9px,32.5px) translateX(-100%) matrix(1,0.0005,0,1,0,0);">.643</span>
<span class="t" style="font-size:4.4px;line-height:5.28px;color:#1a1a1a;transform:translate(937.0px,30.85px) matrix(1,0.0005,0,1,0,0);">**</span>
<span class="t" style="font-size:5.85px;line-height:7.02px;color:#45647a;transform:translate(693.85px,42.7px) matrix(1,0.0005,0,1,0,0);">Sig. (2-tailed)</span>
<span class="t" style="font-size:5.85px;line-height:7.02px;color:#1a1a1a;transform:translate(810.7px,42.7px) translateX(-100%) matrix(1,0.0005,0,1,0,0);">.111</span>
<span class="t" style="font-size:5.85px;line-height:7.02px;color:#1a1a1a;transform:translate(843.3px,42.7px) translateX(-100%) matrix(1,0.0005,0,1,0,0);">.001</span>
<span class="t" style="font-size:5.85px;line-height:7.02px;color:#1a1a1a;transform:translate(875.4px,42.7px) translateX(-100%) matrix(1,0.0005,0,1,0,0);">.085</span>
<span class="t" style="font-size:5.85px;line-height:7.02px;color:#1a1a1a;transform:translate(908.1px,42.7px) translateX(-100%) matrix(1,0.0005,0,1,0,0);">&lt;.001</span>
<span class="t" style="font-size:5.85px;line-height:7.02px;color:#1a1a1a;transform:translate(940.5px,42.7px) translateX(-100%) matrix(1,0.0005,0,1,0,0);">&lt;.001</span>
<span class="t" style="font-size:5.85px;line-height:7.02px;color:#45647a;transform:translate(693.85px,52.6px) matrix(1,0.0005,0,1,0,0);">N</span>
<span class="t" style="font-size:5.85px;line-height:7.02px;color:#1a1a1a;transform:translate(778.1px,52.6px) translateX(-100%) matrix(1,0.0005,0,1,0,0);">139</span>
<span class="t" style="font-size:5.85px;line-height:7.02px;color:#1a1a1a;transform:translate(810.7px,52.6px) translateX(-100%) matrix(1,0.0005,0,1,0,0);">139</span>
<span class="t" style="font-size:5.85px;line-height:7.02px;color:#1a1a1a;transform:translate(843.3px,52.6px) translateX(-100%) matrix(1,0.0005,0,1,0,0);">139</span>
<span class="t" style="font-size:5.85px;line-height:7.02px;color:#1a1a1a;transform:translate(875.4px,52.6px) translateX(-100%) matrix(1,0.0005,0,1,0,0);">139</span>
<span class="t" style="font-size:5.85px;line-height:7.02px;color:#1a1a1a;transform:translate(908.1px,52.6px) translateX(-100%) matrix(1,0.0005,0,1,0,0);">139</span>
<span class="t" style="font-size:5.85px;line-height:7.02px;color:#1a1a1a;transform:translate(940.5px,52.6px) translateX(-100%) matrix(1,0.0005,0,1,0,0);">139</span>
<span class="t" style="font-size:5.85px;line-height:7.02px;color:#45647a;transform:translate(670.3px,61.9px) matrix(1,0.0005,0,1,0,0);">X1.2</span>
<span class="t" style="font-size:5.85px;line-height:7.02px;color:#45647a;transform:translate(693.85px,61.9px) matrix(1,0.0005,0,1,0,0);">Pearson Correlation</span>
<span class="t" style="font-size:5.85px;line-height:7.02px;color:#1a1a1a;transform:translate(778.1px,61.9px) translateX(-100%) matrix(1,0.0005,0,1,0,0);">.136</span>
<span class="t" style="font-size:5.85px;line-height:7.02px;color:#1a1a1a;transform:translate(810.7px,61.9px) translateX(-100%) matrix(1,0.0005,0,1,0,0);">1</span>
<span class="t" style="font-size:5.85px;line-height:7.02px;color:#1a1a1a;transform:translate(839.7px,61.9px) translateX(-100%) matrix(1,0.0005,0,1,0,0);">.281</span>
<span class="t" style="font-size:4.4px;line-height:5.28px;color:#1a1a1a;transform:translate(839.8px,60.25px) matrix(1,0.0005,0,1,0,0);">**</span>
<span class="t" style="font-size:5.85px;line-height:7.02px;color:#1a1a1a;transform:translate(871.8px,61.9px) translateX(-100%) matrix(1,0.0005,0,1,0,0);">.785</span>
<span class="t" style="font-size:4.4px;line-height:5.28px;color:#1a1a1a;transform:translate(871.9px,60.25px) matrix(1,0.0005,0,1,0,0);">**</span>
<span class="t" style="font-size:5.85px;line-height:7.02px;color:#1a1a1a;transform:translate(906.2px,61.9px) translateX(-100%) matrix(1,0.0005,0,1,0,0);">.194</span>
<span class="t" style="font-size:4.4px;line-height:5.28px;color:#1a1a1a;transform:translate(906.3px,60.25px) matrix(1,0.0005,0,1,0,0);">*</span>
<span class="t" style="font-size:5.85px;line-height:7.02px;color:#1a1a1a;transform:translate(936.9px,61.9px) translateX(-100%) matrix(1,0.0005,0,1,0,0);">.732</span>
<span class="t" style="font-size:4.4px;line-height:5.28px;color:#1a1a1a;transform:translate(937.0px,60.25px) matrix(1,0.0005,0,1,0,0);">**</span>
<span class="t" style="font-size:5.85px;line-height:7.02px;color:#45647a;transform:translate(693.85px,72.1px) matrix(1,0.0005,0,1,0,0);">Sig. (2-tailed)</span>
<span class="t" style="font-size:5.85px;line-height:7.02px;color:#1a1a1a;transform:translate(778.1px,72.1px) translateX(-100%) matrix(1,0.0005,0,1,0,0);">.111</span>
<span class="t" style="font-size:5.85px;line-height:7.02px;color:#1a1a1a;transform:translate(843.3px,72.1px) translateX(-100%) matrix(1,0.0005,0,1,0,0);">&lt;.001</span>
<span class="t" style="font-size:5.85px;line-height:7.02px;color:#1a1a1a;transform:translate(875.4px,72.1px) translateX(-100%) matrix(1,0.0005,0,1,0,0);">&lt;.001</span>
<span class="t" style="font-size:5.85px;line-height:7.02px;color:#1a1a1a;transform:translate(908.1px,72.1px) translateX(-100%) matrix(1,0.0005,0,1,0,0);">.022</span>
<span class="t" style="font-size:5.85px;line-height:7.02px;color:#1a1a1a;transform:translate(940.5px,72.1px) translateX(-100%) matrix(1,0.0005,0,1,0,0);">&lt;.001</span>
<span class="t" style="font-size:5.85px;line-height:7.02px;color:#45647a;transform:translate(693.85px,82.0px) matrix(1,0.0005,0,1,0,0);">N</span>
<span class="t" style="font-size:5.85px;line-height:7.02px;color:#1a1a1a;transform:translate(778.1px,82.0px) translateX(-100%) matrix(1,0.0005,0,1,0,0);">139</span>
<span class="t" style="font-size:5.85px;line-height:7.02px;color:#1a1a1a;transform:translate(810.7px,82.0px) translateX(-100%) matrix(1,0.0005,0,1,0,0);">139</span>
<span class="t" style="font-size:5.85px;line-height:7.02px;color:#1a1a1a;transform:translate(843.3px,82.0px) translateX(-100%) matrix(1,0.0005,0,1,0,0);">139</span>
<span class="t" style="font-size:5.85px;line-height:7.02px;color:#1a1a1a;transform:translate(875.4px,82.0px) translateX(-100%) matrix(1,0.0005,0,1,0,0);">139</span>
<span class="t" style="font-size:5.85px;line-height:7.02px;color:#1a1a1a;transform:translate(908.1px,82.0px) translateX(-100%) matrix(1,0.0005,0,1,0,0);">139</span>
<span class="t" style="font-size:5.85px;line-height:7.02px;color:#1a1a1a;transform:translate(940.5px,82.0px) translateX(-100%) matrix(1,0.0005,0,1,0,0);">139</span>
<span class="t" style="font-size:5.85px;line-height:7.02px;color:#45647a;transform:translate(670.3px,91.3px) matrix(1,0.0005,0,1,0,0);">X1.3</span>
<span class="t" style="font-size:5.85px;line-height:7.02px;color:#45647a;transform:translate(693.85px,91.3px) matrix(1,0.0005,0,1,0,0);">Pearson Correlation</span>
<span class="t" style="font-size:5.85px;line-height:7.02px;color:#1a1a1a;transform:translate(774.5px,91.3px) translateX(-100%) matrix(1,0.0005,0,1,0,0);">.274</span>
<span class="t" style="font-size:4.4px;line-height:5.28px;color:#1a1a1a;transform:translate(774.6px,89.65px) matrix(1,0.0005,0,1,0,0);">**</span>
<span class="t" style="font-size:5.85px;line-height:7.02px;color:#1a1a1a;transform:translate(807.1px,91.3px) translateX(-100%) matrix(1,0.0005,0,1,0,0);">.281</span>
<span class="t" style="font-size:4.4px;line-height:5.28px;color:#1a1a1a;transform:translate(807.2px,89.65px) matrix(1,0.0005,0,1,0,0);">**</span>
<span class="t" style="font-size:5.85px;line-height:7.02px;color:#1a1a1a;transform:translate(843.3px,91.3px) translateX(-100%) matrix(1,0.0005,0,1,0,0);">1</span>
<span class="t" style="font-size:5.85px;line-height:7.02px;color:#1a1a1a;transform:translate(871.8px,91.3px) translateX(-100%) matrix(1,0.0005,0,1,0,0);">.224</span>
<span class="t" style="font-size:4.4px;line-height:5.28px;color:#1a1a1a;transform:translate(871.9px,89.65px) matrix(1,0.0005,0,1,0,0);">**</span>
<span class="t" style="font-size:5.85px;line-height:7.02px;color:#1a1a1a;transform:translate(904.5px,91.3px) translateX(-100%) matrix(1,0.0005,0,1,0,0);">.391</span>
<span class="t" style="font-size:4.4px;line-height:5.28px;color:#1a1a1a;transform:translate(904.6px,89.65px) matrix(1,0.0005,0,1,0,0);">**</span>
<span class="t" style="font-size:5.85px;line-height:7.02px;color:#1a1a1a;transform:translate(936.9px,91.3px) translateX(-100%) matrix(1,0.0005,0,1,0,0);">.632</span>
<span class="t" style="font-size:4.4px;line-height:5.28px;color:#1a1a1a;transform:translate(937.0px,89.65px) matrix(1,0.0005,0,1,0,0);">**</span>
<span class="t" style="font-size:5.85px;line-height:7.02px;color:#45647a;transform:translate(693.85px,101.5px) matrix(1,0.0005,0,1,0,0);">Sig. (2-tailed)</span>
<span class="t" style="font-size:5.85px;line-height:7.02px;color:#1a1a1a;transform:translate(778.1px,101.5px) translateX(-100%) matrix(1,0.0005,0,1,0,0);">.001</span>
<span class="t" style="font-size:5.85px;line-height:7.02px;color:#1a1a1a;transform:translate(810.7px,101.5px) translateX(-100%) matrix(1,0.0005,0,1,0,0);">&lt;.001</span>
<span class="t" style="font-size:5.85px;line-height:7.02px;color:#1a1a1a;transform:translate(875.4px,101.5px) translateX(-100%) matrix(1,0.0005,0,1,0,0);">.008</span>
<span class="t" style="font-size:5.85px;line-height:7.02px;color:#1a1a1a;transform:translate(908.1px,101.5px) translateX(-100%) matrix(1,0.0005,0,1,0,0);">&lt;.001</span>
<span class="t" style="font-size:5.85px;line-height:7.02px;color:#1a1a1a;transform:translate(940.5px,101.5px) translateX(-100%) matrix(1,0.0005,0,1,0,0);">&lt;.001</span>
<span class="t" style="font-size:5.85px;line-height:7.02px;color:#45647a;transform:translate(693.85px,111.4px) matrix(1,0.0005,0,1,0,0);">N</span>
<span class="t" style="font-size:5.85px;line-height:7.02px;color:#1a1a1a;transform:translate(778.1px,111.4px) translateX(-100%) matrix(1,0.0005,0,1,0,0);">139</span>
<span class="t" style="font-size:5.85px;line-height:7.02px;color:#1a1a1a;transform:translate(810.7px,111.4px) translateX(-100%) matrix(1,0.0005,0,1,0,0);">139</span>
<span class="t" style="font-size:5.85px;line-height:7.02px;color:#1a1a1a;transform:translate(843.3px,111.4px) translateX(-100%) matrix(1,0.0005,0,1,0,0);">139</span>
<span class="t" style="font-size:5.85px;line-height:7.02px;color:#1a1a1a;transform:translate(875.4px,111.4px) translateX(-100%) matrix(1,0.0005,0,1,0,0);">139</span>
<span class="t" style="font-size:5.85px;line-height:7.02px;color:#1a1a1a;transform:translate(908.1px,111.4px) translateX(-100%) matrix(1,0.0005,0,1,0,0);">139</span>
<span class="t" style="font-size:5.85px;line-height:7.02px;color:#1a1a1a;transform:translate(940.5px,111.4px) translateX(-100%) matrix(1,0.0005,0,1,0,0);">139</span>
<span class="t" style="font-size:5.85px;line-height:7.02px;color:#45647a;transform:translate(670.3px,120.7px) matrix(1,0.0005,0,1,0,0);">X1.4</span>
<span class="t" style="font-size:5.85px;line-height:7.02px;color:#45647a;transform:translate(693.85px,120.7px) matrix(1,0.0005,0,1,0,0);">Pearson Correlation</span>
<span class="t" style="font-size:5.85px;line-height:7.02px;color:#1a1a1a;transform:translate(778.1px,120.7px) translateX(-100%) matrix(1,0.0005,0,1,0,0);">.146</span>
<span class="t" style="font-size:5.85px;line-height:7.02px;color:#1a1a1a;transform:translate(807.1px,120.7px) translateX(-100%) matrix(1,0.0005,0,1,0,0);">.785</span>
<span class="t" style="font-size:4.4px;line-height:5.28px;color:#1a1a1a;transform:translate(807.2px,119.05px) matrix(1,0.0005,0,1,0,0);">**</span>
<span class="t" style="font-size:5.85px;line-height:7.02px;color:#1a1a1a;transform:translate(839.7px,120.7px) translateX(-100%) matrix(1,0.0005,0,1,0,0);">.224</span>
<span class="t" style="font-size:4.4px;line-height:5.28px;color:#1a1a1a;transform:translate(839.8px,119.05px) matrix(1,0.0005,0,1,0,0);">**</span>
<span class="t" style="font-size:5.85px;line-height:7.02px;color:#1a1a1a;transform:translate(875.4px,120.7px) translateX(-100%) matrix(1,0.0005,0,1,0,0);">1</span>
<span class="t" style="font-size:5.85px;line-height:7.02px;color:#1a1a1a;transform:translate(908.1px,120.7px) translateX(-100%) matrix(1,0.0005,0,1,0,0);">.010</span>
<span class="t" style="font-size:5.85px;line-height:7.02px;color:#1a1a1a;transform:translate(936.9px,120.7px) translateX(-100%) matrix(1,0.0005,0,1,0,0);">.672</span>
<span class="t" style="font-size:4.4px;line-height:5.28px;color:#1a1a1a;transform:translate(937.0px,119.05px) matrix(1,0.0005,0,1,0,0);">**</span>
<span class="t" style="font-size:5.85px;line-height:7.02px;color:#45647a;transform:translate(693.85px,130.9px) matrix(1,0.0005,0,1,0,0);">Sig. (2-tailed)</span>
<span class="t" style="font-size:5.85px;line-height:7.02px;color:#1a1a1a;transform:translate(778.1px,130.9px) translateX(-100%) matrix(1,0.0005,0,1,0,0);">.085</span>
<span class="t" style="font-size:5.85px;line-height:7.02px;color:#1a1a1a;transform:translate(810.7px,130.9px) translateX(-100%) matrix(1,0.0005,0,1,0,0);">&lt;.001</span>
<span class="t" style="font-size:5.85px;line-height:7.02px;color:#1a1a1a;transform:translate(843.3px,130.9px) translateX(-100%) matrix(1,0.0005,0,1,0,0);">.008</span>
<span class="t" style="font-size:5.85px;line-height:7.02px;color:#1a1a1a;transform:translate(908.1px,130.9px) translateX(-100%) matrix(1,0.0005,0,1,0,0);">.903</span>
<span class="t" style="font-size:5.85px;line-height:7.02px;color:#1a1a1a;transform:translate(940.5px,130.9px) translateX(-100%) matrix(1,0.0005,0,1,0,0);">&lt;.001</span>
<span class="t" style="font-size:5.85px;line-height:7.02px;color:#45647a;transform:translate(693.85px,140.8px) matrix(1,0.0005,0,1,0,0);">N</span>
<span class="t" style="font-size:5.85px;line-height:7.02px;color:#1a1a1a;transform:translate(778.1px,140.8px) translateX(-100%) matrix(1,0.0005,0,1,0,0);">139</span>
<span class="t" style="font-size:5.85px;line-height:7.02px;color:#1a1a1a;transform:translate(810.7px,140.8px) translateX(-100%) matrix(1,0.0005,0,1,0,0);">139</span>
<span class="t" style="font-size:5.85px;line-height:7.02px;color:#1a1a1a;transform:translate(843.3px,140.8px) translateX(-100%) matrix(1,0.0005,0,1,0,0);">139</span>
<span class="t" style="font-size:5.85px;line-height:7.02px;color:#1a1a1a;transform:translate(875.4px,140.8px) translateX(-100%) matrix(1,0.0005,0,1,0,0);">139</span>
<span class="t" style="font-size:5.85px;line-height:7.02px;color:#1a1a1a;transform:translate(908.1px,140.8px) translateX(-100%) matrix(1,0.0005,0,1,0,0);">139</span>
<span class="t" style="font-size:5.85px;line-height:7.02px;color:#1a1a1a;transform:translate(940.5px,140.8px) translateX(-100%) matrix(1,0.0005,0,1,0,0);">139</span>
<span class="t" style="font-size:5.85px;line-height:7.02px;color:#45647a;transform:translate(670.3px,150.1px) matrix(1,0.0005,0,1,0,0);">X1.5</span>
<span class="t" style="font-size:5.85px;line-height:7.02px;color:#45647a;transform:translate(693.85px,150.1px) matrix(1,0.0005,0,1,0,0);">Pearson Correlation</span>
<span class="t" style="font-size:5.85px;line-height:7.02px;color:#1a1a1a;transform:translate(774.5px,150.1px) translateX(-100%) matrix(1,0.0005,0,1,0,0);">.629</span>
<span class="t" style="font-size:4.4px;line-height:5.28px;color:#1a1a1a;transform:translate(774.6px,148.45px) matrix(1,0.0005,0,1,0,0);">**</span>
<span class="t" style="font-size:5.85px;line-height:7.02px;color:#1a1a1a;transform:translate(808.8px,150.1px) translateX(-100%) matrix(1,0.0005,0,1,0,0);">.194</span>
<span class="t" style="font-size:4.4px;line-height:5.28px;color:#1a1a1a;transform:translate(808.9px,148.45px) matrix(1,0.0005,0,1,0,0);">*</span>
<span class="t" style="font-size:5.85px;line-height:7.02px;color:#1a1a1a;transform:translate(839.7px,150.1px) translateX(-100%) matrix(1,0.0005,0,1,0,0);">.391</span>
<span class="t" style="font-size:4.4px;line-height:5.28px;color:#1a1a1a;transform:translate(839.8px,148.45px) matrix(1,0.0005,0,1,0,0);">**</span>
<span class="t" style="font-size:5.85px;line-height:7.02px;color:#1a1a1a;transform:translate(875.4px,150.1px) translateX(-100%) matrix(1,0.0005,0,1,0,0);">.010</span>
<span class="t" style="font-size:5.85px;line-height:7.02px;color:#1a1a1a;transform:translate(908.1px,150.1px) translateX(-100%) matrix(1,0.0005,0,1,0,0);">1</span>
<span class="t" style="font-size:5.85px;line-height:7.02px;color:#1a1a1a;transform:translate(936.9px,150.1px) translateX(-100%) matrix(1,0.0005,0,1,0,0);">.657</span>
<span class="t" style="font-size:4.4px;line-height:5.28px;color:#1a1a1a;transform:translate(937.0px,148.45px) matrix(1,0.0005,0,1,0,0);">**</span>
<span class="t" style="font-size:5.85px;line-height:7.02px;color:#45647a;transform:translate(693.85px,160.3px) matrix(1,0.0005,0,1,0,0);">Sig. (2-tailed)</span>
<span class="t" style="font-size:5.85px;line-height:7.02px;color:#1a1a1a;transform:translate(778.1px,160.3px) translateX(-100%) matrix(1,0.0005,0,1,0,0);">&lt;.001</span>
<span class="t" style="font-size:5.85px;line-height:7.02px;color:#1a1a1a;transform:translate(810.7px,160.3px) translateX(-100%) matrix(1,0.0005,0,1,0,0);">.022</span>
<span class="t" style="font-size:5.85px;line-height:7.02px;color:#1a1a1a;transform:translate(843.3px,160.3px) translateX(-100%) matrix(1,0.0005,0,1,0,0);">&lt;.001</span>
<span class="t" style="font-size:5.85px;line-height:7.02px;color:#1a1a1a;transform:translate(875.4px,160.3px) translateX(-100%) matrix(1,0.0005,0,1,0,0);">.903</span>
<span class="t" style="font-size:5.85px;line-height:7.02px;color:#1a1a1a;transform:translate(940.5px,160.3px) translateX(-100%) matrix(1,0.0005,0,1,0,0);">&lt;.001</span>
<span class="t" style="font-size:5.85px;line-height:7.02px;color:#45647a;transform:translate(693.85px,170.2px) matrix(1,0.0005,0,1,0,0);">N</span>
<span class="t" style="font-size:5.85px;line-height:7.02px;color:#1a1a1a;transform:translate(778.1px,170.2px) translateX(-100%) matrix(1,0.0005,0,1,0,0);">139</span>
<span class="t" style="font-size:5.85px;line-height:7.02px;color:#1a1a1a;transform:translate(810.7px,170.2px) translateX(-100%) matrix(1,0.0005,0,1,0,0);">139</span>
<span class="t" style="font-size:5.85px;line-height:7.02px;color:#1a1a1a;transform:translate(843.3px,170.2px) translateX(-100%) matrix(1,0.0005,0,1,0,0);">139</span>
<span class="t" style="font-size:5.85px;line-height:7.02px;color:#1a1a1a;transform:translate(875.4px,170.2px) translateX(-100%) matrix(1,0.0005,0,1,0,0);">139</span>
<span class="t" style="font-size:5.85px;line-height:7.02px;color:#1a1a1a;transform:translate(908.1px,170.2px) translateX(-100%) matrix(1,0.0005,0,1,0,0);">139</span>
<span class="t" style="font-size:5.85px;line-height:7.02px;color:#1a1a1a;transform:translate(940.5px,170.2px) translateX(-100%) matrix(1,0.0005,0,1,0,0);">139</span>
<span class="t" style="font-size:5.85px;line-height:7.02px;color:#45647a;transform:translate(670.3px,179.5px) matrix(1,0.0005,0,1,0,0);">X1</span>
<span class="t" style="font-size:5.85px;line-height:7.02px;color:#45647a;transform:translate(693.85px,179.5px) matrix(1,0.0005,0,1,0,0);">Pearson Correlation</span>
<span class="t" style="font-size:5.85px;line-height:7.02px;color:#1a1a1a;transform:translate(774.5px,179.5px) translateX(-100%) matrix(1,0.0005,0,1,0,0);">.643</span>
<span class="t" style="font-size:4.4px;line-height:5.28px;color:#1a1a1a;transform:translate(774.6px,177.85px) matrix(1,0.0005,0,1,0,0);">**</span>
<span class="t" style="font-size:5.85px;line-height:7.02px;color:#1a1a1a;transform:translate(807.1px,179.5px) translateX(-100%) matrix(1,0.0005,0,1,0,0);">.732</span>
<span class="t" style="font-size:4.4px;line-height:5.28px;color:#1a1a1a;transform:translate(807.2px,177.85px) matrix(1,0.0005,0,1,0,0);">**</span>
<span class="t" style="font-size:5.85px;line-height:7.02px;color:#1a1a1a;transform:translate(839.7px,179.5px) translateX(-100%) matrix(1,0.0005,0,1,0,0);">.632</span>
<span class="t" style="font-size:4.4px;line-height:5.28px;color:#1a1a1a;transform:translate(839.8px,177.85px) matrix(1,0.0005,0,1,0,0);">**</span>
<span class="t" style="font-size:5.85px;line-height:7.02px;color:#1a1a1a;transform:translate(871.8px,179.5px) translateX(-100%) matrix(1,0.0005,0,1,0,0);">.672</span>
<span class="t" style="font-size:4.4px;line-height:5.28px;color:#1a1a1a;transform:translate(871.9px,177.85px) matrix(1,0.0005,0,1,0,0);">**</span>
<span class="t" style="font-size:5.85px;line-height:7.02px;color:#1a1a1a;transform:translate(904.5px,179.5px) translateX(-100%) matrix(1,0.0005,0,1,0,0);">.657</span>
<span class="t" style="font-size:4.4px;line-height:5.28px;color:#1a1a1a;transform:translate(904.6px,177.85px) matrix(1,0.0005,0,1,0,0);">**</span>
<span class="t" style="font-size:5.85px;line-height:7.02px;color:#1a1a1a;transform:translate(940.5px,179.5px) translateX(-100%) matrix(1,0.0005,0,1,0,0);">1</span>
<span class="t" style="font-size:5.85px;line-height:7.02px;color:#45647a;transform:translate(693.85px,189.7px) matrix(1,0.0005,0,1,0,0);">Sig. (2-tailed)</span>
<span class="t" style="font-size:5.85px;line-height:7.02px;color:#1a1a1a;transform:translate(778.1px,189.7px) translateX(-100%) matrix(1,0.0005,0,1,0,0);">&lt;.001</span>
<span class="t" style="font-size:5.85px;line-height:7.02px;color:#1a1a1a;transform:translate(810.7px,189.7px) translateX(-100%) matrix(1,0.0005,0,1,0,0);">&lt;.001</span>
<span class="t" style="font-size:5.85px;line-height:7.02px;color:#1a1a1a;transform:translate(843.3px,189.7px) translateX(-100%) matrix(1,0.0005,0,1,0,0);">&lt;.001</span>
<span class="t" style="font-size:5.85px;line-height:7.02px;color:#1a1a1a;transform:translate(875.4px,189.7px) translateX(-100%) matrix(1,0.0005,0,1,0,0);">&lt;.001</span>
<span class="t" style="font-size:5.85px;line-height:7.02px;color:#1a1a1a;transform:translate(908.1px,189.7px) translateX(-100%) matrix(1,0.0005,0,1,0,0);">&lt;.001</span>
<span class="t" style="font-size:5.85px;line-height:7.02px;color:#45647a;transform:translate(693.85px,199.6px) matrix(1,0.0005,0,1,0,0);">N</span>
<span class="t" style="font-size:5.85px;line-height:7.02px;color:#1a1a1a;transform:translate(778.1px,199.6px) translateX(-100%) matrix(1,0.0005,0,1,0,0);">139</span>
<span class="t" style="font-size:5.85px;line-height:7.02px;color:#1a1a1a;transform:translate(810.7px,199.6px) translateX(-100%) matrix(1,0.0005,0,1,0,0);">139</span>
<span class="t" style="font-size:5.85px;line-height:7.02px;color:#1a1a1a;transform:translate(843.3px,199.6px) translateX(-100%) matrix(1,0.0005,0,1,0,0);">139</span>
<span class="t" style="font-size:5.85px;line-height:7.02px;color:#1a1a1a;transform:translate(875.4px,199.6px) translateX(-100%) matrix(1,0.0005,0,1,0,0);">139</span>
<span class="t" style="font-size:5.85px;line-height:7.02px;color:#1a1a1a;transform:translate(908.1px,199.6px) translateX(-100%) matrix(1,0.0005,0,1,0,0);">139</span>
<span class="t" style="font-size:5.85px;line-height:7.02px;color:#1a1a1a;transform:translate(940.5px,199.6px) translateX(-100%) matrix(1,0.0005,0,1,0,0);">139</span>
<span class="t" style="font-size:5.85px;line-height:7.02px;color:#000;transform:translate(676.2px,209.2px) matrix(1,0.0005,0,1,0,0);">**. Correlation is significant at the 0.01 level (2-tailed).</span>
<span class="t" style="font-size:5.85px;line-height:7.02px;color:#000;transform:translate(678.6px,218.6px) matrix(1,0.0005,0,1,0,0);">*. Correlation is significant at the 0.05 level (2-tailed).</span>
<span class="t" style="font-size:8.1px;line-height:9.72px;color:#000;font-weight:bold;transform:translate(743.6px,238.47px) translateX(-50%) matrix(1,0.0005,0,1,0,0);">Case Processing Summary</span>
<span class="t" style="font-size:7.05px;line-height:8.46px;color:#33566d;transform:translate(758.2px,252.15px) translateX(-50%) matrix(1,0.0005,0,1,0,0);">N</span>
<span class="t" style="font-size:7.05px;line-height:8.46px;color:#33566d;transform:translate(796.5px,252.15px) translateX(-50%) matrix(1,0.0005,0,1,0,0);">%</span>
<span class="t" style="font-size:7.05px;line-height:8.46px;color:#33566d;transform:translate(674.8px,264.35px) matrix(1,0.0005,0,1,0,0);">Cases</span>
<span class="t" style="font-size:7.05px;line-height:8.46px;color:#33566d;transform:translate(703.5px,264.35px) matrix(1,0.0005,0,1,0,0);">Valid</span>
<span class="t" style="font-size:7.05px;line-height:8.46px;color:#1a1a1a;transform:translate(773.5px,264.35px) translateX(-100%) matrix(1,0.0005,0,1,0,0);">139</span>
<span class="t" style="font-size:7.05px;line-height:8.46px;color:#1a1a1a;transform:translate(812.0px,264.35px) translateX(-100%) matrix(1,0.0005,0,1,0,0);">100.0</span>
<span class="t" style="font-size:7.05px;line-height:8.46px;color:#33566d;transform:translate(703.5px,276.1px) matrix(1,0.0005,0,1,0,0);">Excluded<sup>a</sup></span>
<span class="t" style="font-size:7.05px;line-height:8.46px;color:#1a1a1a;transform:translate(773.5px,276.1px) translateX(-100%) matrix(1,0.0005,0,1,0,0);">0</span>
<span class="t" style="font-size:7.05px;line-height:8.46px;color:#1a1a1a;transform:translate(812.0px,276.1px) translateX(-100%) matrix(1,0.0005,0,1,0,0);">.0</span>
<span class="t" style="font-size:7.05px;line-height:8.46px;color:#33566d;transform:translate(703.5px,288.05px) matrix(1,0.0005,0,1,0,0);">Total</span>
<span class="t" style="font-size:7.05px;line-height:8.46px;color:#1a1a1a;transform:translate(773.5px,288.05px) translateX(-100%) matrix(1,0.0005,0,1,0,0);">139</span>
<span class="t" style="font-size:7.05px;line-height:8.46px;color:#1a1a1a;transform:translate(812.0px,288.05px) translateX(-100%) matrix(1,0.0005,0,1,0,0);">100.0</span>
<span class="t" style="font-size:7.05px;line-height:8.46px;color:#000;transform:translate(682.0px,299.65px) matrix(1,0.0005,0,1,0,0);">a. Listwise deletion based on all</span>
<span class="t" style="font-size:7.05px;line-height:8.46px;color:#000;transform:translate(689.0px,308.05px) matrix(1,0.0005,0,1,0,0);">variables in the procedure.</span>
<span class="t" style="font-size:7.2px;line-height:8.64px;color:#000;font-weight:bold;transform:translate(880.5px,238.67px) translateX(-50%) matrix(1,0.0005,0,1,0,0);">Coefficients</span>
<span class="t" style="font-size:4.7px;line-height:5.64px;color:#000;font-weight:bold;transform:translate(902.2px,237.29px) matrix(1,0.0005,0,1,0,0);">a</span>
<span class="t" style="font-size:6.15px;line-height:7.38px;color:#45647a;transform:translate(908.7px,250.71px) translateX(-50%) matrix(1,0.0005,0,1,0,0);">Collinearity Statistics</span>
<span class="t" style="font-size:6.15px;line-height:7.38px;color:#45647a;transform:translate(828px,260.21px) matrix(1,0.0005,0,1,0,0);">Model</span>
<span class="t" style="font-size:6.15px;line-height:7.38px;color:#45647a;transform:translate(891.9px,260.11px) translateX(-50%) matrix(1,0.0005,0,1,0,0);">Tolerance</span>
<span class="t" style="font-size:6.15px;line-height:7.38px;color:#45647a;transform:translate(926.2px,260.11px) translateX(-50%) matrix(1,0.0005,0,1,0,0);">VIF</span>
<span class="t" style="font-size:6.15px;line-height:7.38px;color:#45647a;transform:translate(828.4px,271.11px) matrix(1,0.0005,0,1,0,0);">1</span>
<span class="t" style="font-size:6.15px;line-height:7.38px;color:#45647a;transform:translate(852.75px,271.11px) matrix(1,0.0005,0,1,0,0);">X1</span>
<span class="t" style="font-size:6.15px;line-height:7.38px;color:#1a1a1a;transform:translate(905.5px,271.11px) translateX(-100%) matrix(1,0.0005,0,1,0,0);">.680</span>
<span class="t" style="font-size:6.15px;line-height:7.38px;color:#1a1a1a;transform:translate(940.2px,271.11px) translateX(-100%) matrix(1,0.0005,0,1,0,0);">1.470</span>
<span class="t" style="font-size:6.15px;line-height:7.38px;color:#45647a;transform:translate(852.75px,281.11px) matrix(1,0.0005,0,1,0,0);">X2</span>
<span class="t" style="font-size:6.15px;line-height:7.38px;color:#1a1a1a;transform:translate(905.5px,281.11px) translateX(-100%) matrix(1,0.0005,0,1,0,0);">.414</span>
<span class="t" style="font-size:6.15px;line-height:7.38px;color:#1a1a1a;transform:translate(940.2px,281.11px) translateX(-100%) matrix(1,0.0005,0,1,0,0);">2.417</span>
<span class="t" style="font-size:6.15px;line-height:7.38px;color:#45647a;transform:translate(852.75px,291.11px) matrix(1,0.0005,0,1,0,0);">X3</span>
<span class="t" style="font-size:6.15px;line-height:7.38px;color:#1a1a1a;transform:translate(905.5px,291.11px) translateX(-100%) matrix(1,0.0005,0,1,0,0);">.343</span>
<span class="t" style="font-size:6.15px;line-height:7.38px;color:#1a1a1a;transform:translate(940.2px,291.11px) translateX(-100%) matrix(1,0.0005,0,1,0,0);">2.913</span>
<span class="t" style="font-size:6.15px;line-height:7.38px;color:#000;transform:translate(834.75px,301.71px) matrix(1,0.0005,0,1,0,0);">a. Dependent Variable: Y</span>
<span class="t" style="font-size:7.5px;line-height:9.0px;color:#000;font-weight:bold;transform:translate(802.5px,325.63px) translateX(-50%) matrix(1,0.0005,0,1,0,0);">Coefficients</span>
<span class="t" style="font-size:4.9px;line-height:5.88px;color:#000;font-weight:bold;transform:translate(824.4px,325.54px) matrix(1,0.0005,0,1,0,0);">a</span>
<span class="t" style="font-size:6.4px;line-height:7.68px;color:#45647a;transform:translate(671.1px,356.7px) matrix(1,0.0005,0,1,0,0);">Model</span>
<span class="t" style="font-size:6.4px;line-height:7.68px;color:#45647a;transform:translate(775.0px,347.0px) translateX(-50%) matrix(1,0.0005,0,1,0,0);">Unstandardized Coefficients</span>
<span class="t" style="font-size:6.4px;line-height:7.68px;color:#45647a;transform:translate(845.4px,339.2px) translateX(-50%) matrix(1,0.0005,0,1,0,0);">Standardized</span>
<span class="t" style="font-size:6.4px;line-height:7.68px;color:#45647a;transform:translate(845.4px,346.8px) translateX(-50%) matrix(1,0.0005,0,1,0,0);">Coefficients</span>
<span class="t" style="font-size:6.4px;line-height:7.68px;color:#45647a;transform:translate(752.8px,356.7px) translateX(-50%) matrix(1,0.0005,0,1,0,0);">B</span>
<span class="t" style="font-size:6.4px;line-height:7.68px;color:#45647a;transform:translate(798.4px,356.7px) translateX(-50%) matrix(1,0.0005,0,1,0,0);">Std. Error</span>
<span class="t" style="font-size:6.4px;line-height:7.68px;color:#45647a;transform:translate(845.4px,356.7px) translateX(-50%) matrix(1,0.0005,0,1,0,0);">Beta</span>
<span class="t" style="font-size:6.4px;line-height:7.68px;color:#45647a;transform:translate(889.4px,356.7px) translateX(-50%) matrix(1,0.0005,0,1,0,0);">t</span>
<span class="t" style="font-size:6.4px;line-height:7.68px;color:#45647a;transform:translate(925.4px,356.7px) translateX(-50%) matrix(1,0.0005,0,1,0,0);">Sig.</span>
<span class="t" style="font-size:6.4px;line-height:7.68px;color:#45647a;transform:translate(671.5px,368.3px) matrix(1,0.0005,0,1,0,0);">1</span>
<span class="t" style="font-size:6.4px;line-height:7.68px;color:#45647a;transform:translate(696.7px,368.3px) matrix(1,0.0005,0,1,0,0);">(Constant)</span>
<span class="t" style="font-size:6.4px;line-height:7.68px;color:#1a1a1a;transform:translate(772.0px,368.3px) translateX(-100%) matrix(1,0.0005,0,1,0,0);">.683</span>
<span class="t" style="font-size:6.4px;line-height:7.68px;color:#1a1a1a;transform:translate(816.7px,368.3px) translateX(-100%) matrix(1,0.0005,0,1,0,0);">.352</span>
<span class="t" style="font-size:6.4px;line-height:7.68px;color:#1a1a1a;transform:translate(903.7px,368.3px) translateX(-100%) matrix(1,0.0005,0,1,0,0);">1.939</span>
<span class="t" style="font-size:6.4px;line-height:7.68px;color:#1a1a1a;transform:translate(939.8px,368.3px) translateX(-100%) matrix(1,0.0005,0,1,0,0);">.055</span>
<span class="t" style="font-size:6.4px;line-height:7.68px;color:#45647a;transform:translate(696.7px,378.7px) matrix(1,0.0005,0,1,0,0);">X1</span>
<span class="t" style="font-size:6.4px;line-height:7.68px;color:#1a1a1a;transform:translate(772.0px,378.7px) translateX(-100%) matrix(1,0.0005,0,1,0,0);">-.003</span>
<span class="t" style="font-size:6.4px;line-height:7.68px;color:#1a1a1a;transform:translate(816.7px,378.7px) translateX(-100%) matrix(1,0.0005,0,1,0,0);">.025</span>
<span class="t" style="font-size:6.4px;line-height:7.68px;color:#1a1a1a;transform:translate(867.6px,378.7px) translateX(-100%) matrix(1,0.0005,0,1,0,0);">-.011</span>
<span class="t" style="font-size:6.4px;line-height:7.68px;color:#1a1a1a;transform:translate(903.7px,378.7px) translateX(-100%) matrix(1,0.0005,0,1,0,0);">-.107</span>
<span class="t" style="font-size:6.4px;line-height:7.68px;color:#1a1a1a;transform:translate(939.8px,378.7px) translateX(-100%) matrix(1,0.0005,0,1,0,0);">.915</span>
<span class="t" style="font-size:6.4px;line-height:7.68px;color:#45647a;transform:translate(696.7px,389.2px) matrix(1,0.0005,0,1,0,0);">X2</span>
<span class="t" style="font-size:6.4px;line-height:7.68px;color:#1a1a1a;transform:translate(772.0px,389.2px) translateX(-100%) matrix(1,0.0005,0,1,0,0);">.057</span>
<span class="t" style="font-size:6.4px;line-height:7.68px;color:#1a1a1a;transform:translate(816.7px,389.2px) translateX(-100%) matrix(1,0.0005,0,1,0,0);">.031</span>
<span class="t" style="font-size:6.4px;line-height:7.68px;color:#1a1a1a;transform:translate(867.6px,389.2px) translateX(-100%) matrix(1,0.0005,0,1,0,0);">.248</span>
<span class="t" style="font-size:6.4px;line-height:7.68px;color:#1a1a1a;transform:translate(903.7px,389.2px) translateX(-100%) matrix(1,0.0005,0,1,0,0);">1.882</span>
<span class="t" style="font-size:6.4px;line-height:7.68px;color:#1a1a1a;transform:translate(939.8px,389.2px) translateX(-100%) matrix(1,0.0005,0,1,0,0);">.062</span>
<span class="t" style="font-size:6.4px;line-height:7.68px;color:#45647a;transform:translate(696.7px,399.8px) matrix(1,0.0005,0,1,0,0);">X3</span>
<span class="t" style="font-size:6.4px;line-height:7.68px;color:#1a1a1a;transform:translate(772.0px,399.8px) translateX(-100%) matrix(1,0.0005,0,1,0,0);">-.058</span>
<span class="t" style="font-size:6.4px;line-height:7.68px;color:#1a1a1a;transform:translate(816.7px,399.8px) translateX(-100%) matrix(1,0.0005,0,1,0,0);">.041</span>
<span class="t" style="font-size:6.4px;line-height:7.68px;color:#1a1a1a;transform:translate(867.6px,399.8px) translateX(-100%) matrix(1,0.0005,0,1,0,0);">-.204</span>
<span class="t" style="font-size:6.4px;line-height:7.68px;color:#1a1a1a;transform:translate(903.7px,399.8px) translateX(-100%) matrix(1,0.0005,0,1,0,0);">-1.408</span>
<span class="t" style="font-size:6.4px;line-height:7.68px;color:#1a1a1a;transform:translate(939.8px,399.8px) translateX(-100%) matrix(1,0.0005,0,1,0,0);">.161</span>
<span class="t" style="font-size:6.4px;line-height:7.68px;color:#000;transform:translate(677.6px,410.2px) matrix(1,0.0005,0,1,0,0);">a. Dependent Variable: ABS_RES</span>
<span class="t" style="font-size:8.1px;line-height:9.72px;color:#000;font-weight:bold;transform:translate(805.0px,437.47px) translateX(-50%) matrix(1,0.0005,0,1,0,0);">Model Summary</span>
<span class="t" style="font-size:5.8px;line-height:6.96px;color:#000;font-weight:bold;transform:translate(837.3px,435.58px) matrix(1,0.0005,0,1,0,0);">b</span>
<span class="t" style="font-size:6.9px;line-height:8.28px;color:#33566d;transform:translate(674.8px,460.59px) matrix(1,0.0005,0,1,0,0);">Model</span>
<span class="t" style="font-size:6.9px;line-height:8.28px;color:#33566d;transform:translate(718.5px,460.59px) translateX(-50%) matrix(1,0.0005,0,1,0,0);">R</span>
<span class="t" style="font-size:6.9px;line-height:8.28px;color:#33566d;transform:translate(757.9px,460.59px) translateX(-50%) matrix(1,0.0005,0,1,0,0);">R Square</span>
<span class="t" style="font-size:6.9px;line-height:8.28px;color:#33566d;transform:translate(804.8px,451.69px) translateX(-50%) matrix(1,0.0005,0,1,0,0);">Adjusted R</span>
<span class="t" style="font-size:6.9px;line-height:8.28px;color:#33566d;transform:translate(805.4px,460.59px) translateX(-50%) matrix(1,0.0005,0,1,0,0);">Square</span>
<span class="t" style="font-size:6.9px;line-height:8.28px;color:#33566d;transform:translate(861.9px,451.69px) translateX(-50%) matrix(1,0.0005,0,1,0,0);">Std. Error of the</span>
<span class="t" style="font-size:6.9px;line-height:8.28px;color:#33566d;transform:translate(862.5px,460.59px) translateX(-50%) matrix(1,0.0005,0,1,0,0);">Estimate</span>
<span class="t" style="font-size:6.9px;line-height:8.28px;color:#33566d;transform:translate(918.75px,460.59px) translateX(-50%) matrix(1,0.0005,0,1,0,0);">Durbin-Watson</span>
<span class="t" style="font-size:6.9px;line-height:8.28px;color:#33566d;transform:translate(675.3px,473.19px) matrix(1,0.0005,0,1,0,0);">1</span>
<span class="t" style="font-size:6.9px;line-height:8.28px;color:#1a1a1a;transform:translate(730.7px,473.19px) translateX(-100%) matrix(1,0.0005,0,1,0,0);">.818</span>
<span class="t" style="font-size:4.7px;line-height:5.64px;color:#1a1a1a;font-weight:bold;transform:translate(731.3px,472.29px) matrix(1,0.0005,0,1,0,0);">a</span>
<span class="t" style="font-size:6.9px;line-height:8.28px;color:#1a1a1a;transform:translate(773.2px,473.19px) translateX(-100%) matrix(1,0.0005,0,1,0,0);">.670</span>
<span class="t" style="font-size:6.9px;line-height:8.28px;color:#1a1a1a;transform:translate(830.0px,473.19px) translateX(-100%) matrix(1,0.0005,0,1,0,0);">.662</span>
<span class="t" style="font-size:6.9px;line-height:8.28px;color:#1a1a1a;transform:translate(886.3px,473.19px) translateX(-100%) matrix(1,0.0005,0,1,0,0);">.817</span>
<span class="t" style="font-size:6.9px;line-height:8.28px;color:#1a1a1a;transform:translate(942.5px,473.19px) translateX(-100%) matrix(1,0.0005,0,1,0,0);">2.050</span>
<span class="t" style="font-size:6.9px;line-height:8.28px;color:#000;transform:translate(682.0px,485.89px) matrix(1,0.0005,0,1,0,0);">a. Predictors: (Constant), X3, X1, X2</span>
<span class="t" style="font-size:6.9px;line-height:8.28px;color:#000;transform:translate(682.0px,497.59px) matrix(1,0.0005,0,1,0,0);">b. Dependent Variable: Y</span>
<svg class="r" style="left:0;top:0" width="140" height="60" viewBox="0 0 140 60">
<circle cx="31.3" cy="27.8" r="14.0" fill="none" stroke="#15283c" stroke-width="2.6"/>
<path d="M24.7 40.6 L39.8 13.7 L37.9 11.8 L46.9 7.0 L46.3 17.9 L45.3 16.9 L31.6 43.1 Q27.6 42.9 24.7 40.6 Z" fill="#15283c" stroke="#f6f7f7" stroke-width="1.3" stroke-linejoin="miter" paint-order="stroke"/>
<path d="M26.3 26.3 L30.5 26.3 L25.2 37.5 L21.9 34.8 Z" fill="#15283c"/>
</svg>
<span class="t" style="font-size:12.2px;line-height:14.64px;color:#15283c;font-weight:bold;font-family:Liberation Serif;transform:translate(50.4px,13.36px) matrix(1,0.0005,0,1,0,0);letter-spacing:0.3px;">ACCELERA</span>
<span class="t" style="font-size:12.15px;line-height:14.58px;color:#15283c;font-weight:bold;font-family:Liberation Serif;transform:translate(53.0px,26.21px) matrix(1,0.0005,0,1,0,0);">RESEARCH</span>
<span class="t" style="font-size:6.72px;line-height:8.06px;color:#2b3440;transform:translate(50.8px,42.78px) matrix(1,0.0005,0,1,0,0);">Bersama Raih Prestasi</span>
<svg class="r" style="left:150.8px;top:16.4px;opacity:0.95" width="50.8" height="20.3" viewBox="0 0 100 40" preserveAspectRatio="none"><g fill="#5a8bc9"><rect x="0" y="0.00" width="19.5" height="2.99"/><rect x="22.5" y="0.00" width="23.5" height="2.99"/><rect x="53" y="0.00" width="14" height="2.99"/><rect x="86" y="0.00" width="14" height="2.99"/><rect x="0" y="5.29" width="19.5" height="2.99"/><rect x="22.5" y="5.29" width="26.5" height="2.99"/><rect x="53" y="5.29" width="15.5" height="2.99"/><rect x="84.5" y="5.29" width="15.5" height="2.99"/><rect x="5.5" y="10.58" width="8.5" height="2.99"/><rect x="28" y="10.58" width="8.5" height="2.99"/><rect x="41" y="10.58" width="9" height="2.99"/><rect x="58.5" y="10.58" width="11.5" height="2.99"/><rect x="83" y="10.58" width="11.5" height="2.99"/><rect x="5.5" y="15.86" width="8.5" height="2.99"/><rect x="28" y="15.86" width="19" height="2.99"/><rect x="58.5" y="15.86" width="13.0" height="2.99"/><rect x="81.5" y="15.86" width="13.0" height="2.99"/><rect x="5.5" y="21.15" width="8.5" height="2.99"/><rect x="28" y="21.15" width="19" height="2.99"/><rect x="58.5" y="21.15" width="8.0" height="2.99"/><rect x="67.5" y="21.15" width="18.0" height="2.99"/><rect x="86.5" y="21.15" width="8.0" height="2.99"/><rect x="5.5" y="26.44" width="8.5" height="2.99"/><rect x="28" y="26.44" width="8.5" height="2.99"/><rect x="41" y="26.44" width="9" height="2.99"/><rect x="58.5" y="26.44" width="8.0" height="2.99"/><rect x="69" y="26.44" width="15" height="2.99"/><rect x="86.5" y="26.44" width="8.0" height="2.99"/><rect x="0" y="31.73" width="19.5" height="2.99"/><rect x="22.5" y="31.73" width="26.5" height="2.99"/><rect x="53" y="31.73" width="13.5" height="2.99"/><rect x="70.5" y="31.73" width="12.0" height="2.99"/><rect x="86.5" y="31.73" width="13.5" height="2.99"/><rect x="0" y="37.01" width="19.5" height="2.99"/><rect x="22.5" y="37.01" width="23.5" height="2.99"/><rect x="53" y="37.01" width="13.5" height="2.99"/><rect x="72" y="37.01" width="9" height="2.99"/><rect x="86.5" y="37.01" width="13.5" height="2.99"/></g></svg>
<span class="t" style="font-size:2.6px;line-height:3.12px;color:#7a9acb;transform:translate(202.4px,35.11px) matrix(1,0.0005,0,1,0,0);">®</span>
<svg class="r" style="left:210px;top:9px" width="34" height="34" viewBox="0 0 34 34">
<defs><radialGradient id="sg" cx="0.36" cy="0.30" r="0.75"><stop offset="0" stop-color="#97c2ea"/><stop offset="0.4" stop-color="#73a8dc"/><stop offset="0.8" stop-color="#5690ce"/><stop offset="0.95" stop-color="#4a82c0"/><stop offset="1" stop-color="#4579b6"/></radialGradient></defs>
<circle cx="16.8" cy="16.9" r="14" fill="url(#sg)"/>
<g transform="translate(7,9.2) scale(1.23,1.096) translate(-6.4,-9.6)"><path d="M6.6 9.6 H15.6 V11.8 H15.1 Q14.7 10.3 13.4 10.3 H8.4 L12.4 16.0 L8.0 22.2 H13.8 Q15.2 22.2 15.7 20.4 H16.2 L15.8 23.2 H6.4 V22.7 L11.0 16.4 L6.6 10.1 Z" fill="#f0f6fc" stroke="#f0f6fc" stroke-width="0.35"/></g>
<text x="19.4" y="17.7" font-family="Liberation Serif" font-size="10.5" fill="#f0f6fc" stroke="#f0f6fc" stroke-width="0.2">α</text>
<path d="M21.9 23.0 l0.5 1.3 1.4 0 -1.1 0.9 0.4 1.4 -1.2 -0.8 -1.2 0.8 0.4 -1.4 -1.1 -0.9 1.4 0 Z" fill="none" stroke="#d4e4f5" stroke-width="0.35"/>
</svg>
<svg class="r" style="left:248px;top:8px" width="90" height="36" viewBox="0 0 90 36">
<text x="5.2" y="30.0" font-family="Liberation Sans" font-weight="bold" font-size="33.2" fill="#e5173f" stroke="#e5173f" stroke-width="1.0" stroke-linejoin="round" textLength="74.0" lengthAdjust="spacing">SPSS</text>
<text x="79.4" y="12.6" font-family="Liberation Sans" font-size="3" fill="#e5173f">®</text>
</svg>
<span class="t" style="font-size:4.3px;line-height:5.16px;color:#222;transform:translate(24.6px,95.76px) matrix(1,0.0005,0,1,0,0);">Version: 29.0.0.0 (241)</span>
<span class="t" style="font-size:13.78px;line-height:16.54px;color:#161616;transform:translate(24.9px,105.41px) matrix(1,0.0005,0,1,0,0);">IBM SPSS Statistics</span>
<span class="t" style="font-size:4.68px;line-height:5.62px;color:#444;transform:translate(24.6px,126.7px) matrix(1,0.0005,0,1,0,0);">License: IBM SPSS Statistics</span>
<svg class="r" style="left:305px;top:105.8px;opacity:1.0" width="28.2" height="12.1" viewBox="0 0 100 40" preserveAspectRatio="none"><g fill="#5c5c5c"><rect x="0" y="0.00" width="19.5" height="4.69"/><rect x="22.5" y="0.00" width="23.5" height="4.69"/><rect x="53" y="0.00" width="14" height="4.69"/><rect x="86" y="0.00" width="14" height="4.69"/><rect x="0" y="5.04" width="19.5" height="4.69"/><rect x="22.5" y="5.04" width="26.5" height="4.69"/><rect x="53" y="5.04" width="15.5" height="4.69"/><rect x="84.5" y="5.04" width="15.5" height="4.69"/><rect x="5.5" y="10.09" width="8.5" height="4.69"/><rect x="28" y="10.09" width="8.5" height="4.69"/><rect x="41" y="10.09" width="9" height="4.69"/><rect x="58.5" y="10.09" width="11.5" height="4.69"/><rect x="83" y="10.09" width="11.5" height="4.69"/><rect x="5.5" y="15.13" width="8.5" height="4.69"/><rect x="28" y="15.13" width="19" height="4.69"/><rect x="58.5" y="15.13" width="13.0" height="4.69"/><rect x="81.5" y="15.13" width="13.0" height="4.69"/><rect x="5.5" y="20.18" width="8.5" height="4.69"/><rect x="28" y="20.18" width="19" height="4.69"/><rect x="58.5" y="20.18" width="8.0" height="4.69"/><rect x="67.5" y="20.18" width="18.0" height="4.69"/><rect x="86.5" y="20.18" width="8.0" height="4.69"/><rect x="5.5" y="25.22" width="8.5" height="4.69"/><rect x="28" y="25.22" width="8.5" height="4.69"/><rect x="41" y="25.22" width="9" height="4.69"/><rect x="58.5" y="25.22" width="8.0" height="4.69"/><rect x="69" y="25.22" width="15" height="4.69"/><rect x="86.5" y="25.22" width="8.0" height="4.69"/><rect x="0" y="30.26" width="19.5" height="4.69"/><rect x="22.5" y="30.26" width="26.5" height="4.69"/><rect x="53" y="30.26" width="13.5" height="4.69"/><rect x="70.5" y="30.26" width="12.0" height="4.69"/><rect x="86.5" y="30.26" width="13.5" height="4.69"/><rect x="0" y="35.31" width="19.5" height="4.69"/><rect x="22.5" y="35.31" width="23.5" height="4.69"/><rect x="53" y="35.31" width="13.5" height="4.69"/><rect x="72" y="35.31" width="9" height="4.69"/><rect x="86.5" y="35.31" width="13.5" height="4.69"/></g></svg>
<svg class="r" style="left:170px;top:120px" width="170" height="165" viewBox="0 0 170 165"><g fill="#d6d6d6"><circle cx="40.32" cy="13.30" r="0.62"/><circle cx="49.59" cy="13.30" r="0.62"/><circle cx="58.86" cy="13.30" r="0.62"/><circle cx="68.13" cy="13.30" r="0.62"/><circle cx="77.40" cy="13.30" r="0.62"/><circle cx="86.68" cy="13.30" r="0.62"/><circle cx="95.95" cy="13.30" r="0.62"/><circle cx="105.22" cy="13.30" r="0.62"/><circle cx="114.49" cy="13.30" r="0.62"/><circle cx="123.76" cy="13.30" r="0.62"/><circle cx="133.04" cy="13.30" r="0.62"/><circle cx="142.31" cy="13.30" r="0.62"/><circle cx="151.58" cy="13.30" r="0.62"/><circle cx="160.85" cy="13.30" r="0.62"/><circle cx="31.04" cy="22.52" r="0.62"/><circle cx="40.32" cy="22.52" r="0.62"/><circle cx="49.59" cy="22.52" r="0.62"/><circle cx="58.86" cy="22.52" r="0.62"/><circle cx="68.13" cy="22.52" r="0.62"/><circle cx="77.40" cy="22.52" r="0.62"/><circle cx="86.68" cy="22.52" r="0.62"/><circle cx="95.95" cy="22.52" r="0.62"/><circle cx="105.22" cy="22.52" r="0.62"/><circle cx="114.49" cy="22.52" r="0.62"/><circle cx="123.76" cy="22.52" r="0.62"/><circle cx="133.04" cy="22.52" r="0.62"/><circle cx="142.31" cy="22.52" r="0.62"/><circle cx="151.58" cy="22.52" r="0.62"/><circle cx="160.85" cy="22.52" r="0.62"/><circle cx="21.77" cy="31.74" r="0.62"/><circle cx="31.04" cy="31.74" r="0.62"/><circle cx="40.32" cy="31.74" r="0.62"/><circle cx="49.59" cy="31.74" r="0.62"/><circle cx="58.86" cy="31.74" r="0.62"/><circle cx="68.13" cy="31.74" r="0.62"/><circle cx="77.40" cy="31.74" r="0.62"/><circle cx="86.68" cy="31.74" r="0.62"/><circle cx="95.95" cy="31.74" r="0.62"/><circle cx="105.22" cy="31.74" r="0.62"/><circle cx="114.49" cy="31.74" r="0.62"/><circle cx="123.76" cy="31.74" r="0.62"/><circle cx="133.04" cy="31.74" r="0.62"/><circle cx="142.31" cy="31.74" r="0.62"/><circle cx="151.58" cy="31.74" r="0.62"/><circle cx="160.85" cy="31.74" r="0.62"/><circle cx="12.50" cy="40.95" r="0.62"/><circle cx="21.77" cy="40.95" r="0.62"/><circle cx="31.04" cy="40.95" r="0.62"/><circle cx="40.32" cy="40.95" r="0.62"/><circle cx="49.59" cy="40.95" r="0.62"/><circle cx="58.86" cy="40.95" r="0.62"/><circle cx="68.13" cy="40.95" r="0.62"/><circle cx="77.40" cy="40.95" r="0.62"/><circle cx="86.68" cy="40.95" r="0.62"/><circle cx="95.95" cy="40.95" r="0.62"/><circle cx="105.22" cy="40.95" r="0.62"/><circle cx="114.49" cy="40.95" r="0.62"/><circle cx="123.76" cy="40.95" r="0.62"/><circle cx="133.04" cy="40.95" r="0.62"/><circle cx="142.31" cy="40.95" r="0.62"/><circle cx="151.58" cy="40.95" r="0.62"/><circle cx="160.85" cy="40.95" r="0.62"/><circle cx="12.50" cy="50.17" r="0.62"/><circle cx="21.77" cy="50.17" r="0.62"/><circle cx="31.04" cy="50.17" r="0.62"/><circle cx="40.32" cy="50.17" r="0.62"/><circle cx="49.59" cy="50.17" r="0.62"/><circle cx="58.86" cy="50.17" r="0.62"/><circle cx="68.13" cy="50.17" r="0.62"/><circle cx="77.40" cy="50.17" r="0.62"/><circle cx="86.68" cy="50.17" r="0.62"/><circle cx="95.95" cy="50.17" r="0.62"/><circle cx="105.22" cy="50.17" r="0.62"/><circle cx="114.49" cy="50.17" r="0.62"/><circle cx="123.76" cy="50.17" r="0.62"/><circle cx="133.04" cy="50.17" r="0.62"/><circle cx="142.31" cy="50.17" r="0.62"/><circle cx="151.58" cy="50.17" r="0.62"/><circle cx="160.85" cy="50.17" r="0.62"/><circle cx="12.50" cy="59.39" r="0.62"/><circle cx="21.77" cy="59.39" r="0.62"/><circle cx="31.04" cy="59.39" r="0.62"/><circle cx="40.32" cy="59.39" r="0.62"/><circle cx="49.59" cy="59.39" r="0.62"/><circle cx="58.86" cy="59.39" r="0.62"/><circle cx="68.13" cy="59.39" r="0.62"/><circle cx="77.40" cy="59.39" r="0.62"/><circle cx="86.68" cy="59.39" r="0.62"/><circle cx="95.95" cy="59.39" r="0.62"/><circle cx="105.22" cy="59.39" r="0.62"/><circle cx="114.49" cy="59.39" r="0.62"/><circle cx="123.76" cy="59.39" r="0.62"/><circle cx="133.04" cy="59.39" r="0.62"/><circle cx="142.31" cy="59.39" r="0.62"/><circle cx="151.58" cy="59.39" r="0.62"/><circle cx="160.85" cy="59.39" r="0.62"/><circle cx="12.50" cy="68.61" r="0.62"/><circle cx="21.77" cy="68.61" r="0.62"/><circle cx="31.04" cy="68.61" r="0.62"/><circle cx="40.32" cy="68.61" r="0.62"/><circle cx="49.59" cy="68.61" r="0.62"/><circle cx="58.86" cy="68.61" r="0.62"/><circle cx="68.13" cy="68.61" r="0.62"/><circle cx="77.40" cy="68.61" r="0.62"/><circle cx="86.68" cy="68.61" r="0.62"/><circle cx="95.95" cy="68.61" r="0.62"/><circle cx="105.22" cy="68.61" r="0.62"/><circle cx="114.49" cy="68.61" r="0.62"/><circle cx="123.76" cy="68.61" r="0.62"/><circle cx="133.04" cy="68.61" r="0.62"/><circle cx="142.31" cy="68.61" r="0.62"/><circle cx="151.58" cy="68.61" r="0.62"/><circle cx="160.85" cy="68.61" r="0.62"/><circle cx="12.50" cy="77.83" r="0.62"/><circle cx="21.77" cy="77.83" r="0.62"/><circle cx="31.04" cy="77.83" r="0.62"/><circle cx="40.32" cy="77.83" r="0.62"/><circle cx="49.59" cy="77.83" r="0.62"/><circle cx="58.86" cy="77.83" r="0.62"/><circle cx="68.13" cy="77.83" r="0.62"/><circle cx="77.40" cy="77.83" r="0.62"/><circle cx="86.68" cy="77.83" r="0.62"/><circle cx="95.95" cy="77.83" r="0.62"/><circle cx="105.22" cy="77.83" r="0.62"/><circle cx="114.49" cy="77.83" r="0.62"/><circle cx="123.76" cy="77.83" r="0.62"/><circle cx="133.04" cy="77.83" r="0.62"/><circle cx="142.31" cy="77.83" r="0.62"/><circle cx="151.58" cy="77.83" r="0.62"/><circle cx="160.85" cy="77.83" r="0.62"/><circle cx="12.50" cy="87.04" r="0.62"/><circle cx="21.77" cy="87.04" r="0.62"/><circle cx="31.04" cy="87.04" r="0.62"/><circle cx="40.32" cy="87.04" r="0.62"/><circle cx="49.59" cy="87.04" r="0.62"/><circle cx="58.86" cy="87.04" r="0.62"/><circle cx="68.13" cy="87.04" r="0.62"/><circle cx="77.40" cy="87.04" r="0.62"/><circle cx="86.68" cy="87.04" r="0.62"/><circle cx="95.95" cy="87.04" r="0.62"/><circle cx="105.22" cy="87.04" r="0.62"/><circle cx="114.49" cy="87.04" r="0.62"/><circle cx="123.76" cy="87.04" r="0.62"/><circle cx="133.04" cy="87.04" r="0.62"/><circle cx="142.31" cy="87.04" r="0.62"/><circle cx="151.58" cy="87.04" r="0.62"/><circle cx="160.85" cy="87.04" r="0.62"/><circle cx="12.50" cy="96.26" r="0.62"/><circle cx="21.77" cy="96.26" r="0.62"/><circle cx="31.04" cy="96.26" r="0.62"/><circle cx="40.32" cy="96.26" r="0.62"/><circle cx="49.59" cy="96.26" r="0.62"/><circle cx="58.86" cy="96.26" r="0.62"/><circle cx="68.13" cy="96.26" r="0.62"/><circle cx="77.40" cy="96.26" r="0.62"/><circle cx="86.68" cy="96.26" r="0.62"/><circle cx="95.95" cy="96.26" r="0.62"/><circle cx="105.22" cy="96.26" r="0.62"/><circle cx="114.49" cy="96.26" r="0.62"/><circle cx="123.76" cy="96.26" r="0.62"/><circle cx="133.04" cy="96.26" r="0.62"/><circle cx="142.31" cy="96.26" r="0.62"/><circle cx="151.58" cy="96.26" r="0.62"/><circle cx="160.85" cy="96.26" r="0.62"/><circle cx="12.50" cy="105.48" r="0.62"/><circle cx="21.77" cy="105.48" r="0.62"/><circle cx="31.04" cy="105.48" r="0.62"/><circle cx="40.32" cy="105.48" r="0.62"/><circle cx="49.59" cy="105.48" r="0.62"/><circle cx="58.86" cy="105.48" r="0.62"/><circle cx="68.13" cy="105.48" r="0.62"/><circle cx="77.40" cy="105.48" r="0.62"/><circle cx="86.68" cy="105.48" r="0.62"/><circle cx="95.95" cy="105.48" r="0.62"/><circle cx="105.22" cy="105.48" r="0.62"/><circle cx="114.49" cy="105.48" r="0.62"/><circle cx="123.76" cy="105.48" r="0.62"/><circle cx="133.04" cy="105.48" r="0.62"/><circle cx="142.31" cy="105.48" r="0.62"/><circle cx="151.58" cy="105.48" r="0.62"/><circle cx="160.85" cy="105.48" r="0.62"/><circle cx="12.50" cy="114.70" r="0.62"/><circle cx="21.77" cy="114.70" r="0.62"/><circle cx="31.04" cy="114.70" r="0.62"/><circle cx="40.32" cy="114.70" r="0.62"/><circle cx="49.59" cy="114.70" r="0.62"/><circle cx="58.86" cy="114.70" r="0.62"/><circle cx="68.13" cy="114.70" r="0.62"/><circle cx="77.40" cy="114.70" r="0.62"/><circle cx="86.68" cy="114.70" r="0.62"/><circle cx="95.95" cy="114.70" r="0.62"/><circle cx="105.22" cy="114.70" r="0.62"/><circle cx="114.49" cy="114.70" r="0.62"/><circle cx="123.76" cy="114.70" r="0.62"/><circle cx="133.04" cy="114.70" r="0.62"/><circle cx="142.31" cy="114.70" r="0.62"/><circle cx="151.58" cy="114.70" r="0.62"/><circle cx="160.85" cy="114.70" r="0.62"/><circle cx="12.50" cy="123.92" r="0.62"/><circle cx="21.77" cy="123.92" r="0.62"/><circle cx="31.04" cy="123.92" r="0.62"/><circle cx="40.32" cy="123.92" r="0.62"/><circle cx="49.59" cy="123.92" r="0.62"/><circle cx="58.86" cy="123.92" r="0.62"/><circle cx="68.13" cy="123.92" r="0.62"/><circle cx="77.40" cy="123.92" r="0.62"/><circle cx="86.68" cy="123.92" r="0.62"/><circle cx="95.95" cy="123.92" r="0.62"/><circle cx="105.22" cy="123.92" r="0.62"/><circle cx="114.49" cy="123.92" r="0.62"/><circle cx="123.76" cy="123.92" r="0.62"/><circle cx="133.04" cy="123.92" r="0.62"/><circle cx="142.31" cy="123.92" r="0.62"/><circle cx="151.58" cy="123.92" r="0.62"/><circle cx="160.85" cy="123.92" r="0.62"/><circle cx="12.50" cy="133.13" r="0.62"/><circle cx="21.77" cy="133.13" r="0.62"/><circle cx="31.04" cy="133.13" r="0.62"/><circle cx="40.32" cy="133.13" r="0.62"/><circle cx="49.59" cy="133.13" r="0.62"/><circle cx="58.86" cy="133.13" r="0.62"/><circle cx="68.13" cy="133.13" r="0.62"/><circle cx="77.40" cy="133.13" r="0.62"/><circle cx="86.68" cy="133.13" r="0.62"/><circle cx="95.95" cy="133.13" r="0.62"/><circle cx="105.22" cy="133.13" r="0.62"/><circle cx="114.49" cy="133.13" r="0.62"/><circle cx="123.76" cy="133.13" r="0.62"/><circle cx="133.04" cy="133.13" r="0.62"/><circle cx="142.31" cy="133.13" r="0.62"/><circle cx="151.58" cy="133.13" r="0.62"/><circle cx="160.85" cy="133.13" r="0.62"/><circle cx="12.50" cy="142.35" r="0.62"/><circle cx="21.77" cy="142.35" r="0.62"/><circle cx="31.04" cy="142.35" r="0.62"/><circle cx="40.32" cy="142.35" r="0.62"/><circle cx="49.59" cy="142.35" r="0.62"/><circle cx="58.86" cy="142.35" r="0.62"/><circle cx="68.13" cy="142.35" r="0.62"/><circle cx="77.40" cy="142.35" r="0.62"/><circle cx="86.68" cy="142.35" r="0.62"/><circle cx="95.95" cy="142.35" r="0.62"/><circle cx="105.22" cy="142.35" r="0.62"/><circle cx="114.49" cy="142.35" r="0.62"/><circle cx="123.76" cy="142.35" r="0.62"/><circle cx="133.04" cy="142.35" r="0.62"/><circle cx="142.31" cy="142.35" r="0.62"/><circle cx="151.58" cy="142.35" r="0.62"/><circle cx="160.85" cy="142.35" r="0.62"/><circle cx="12.50" cy="151.57" r="0.62"/><circle cx="21.77" cy="151.57" r="0.62"/><circle cx="31.04" cy="151.57" r="0.62"/><circle cx="40.32" cy="151.57" r="0.62"/><circle cx="49.59" cy="151.57" r="0.62"/><circle cx="58.86" cy="151.57" r="0.62"/><circle cx="68.13" cy="151.57" r="0.62"/><circle cx="77.40" cy="151.57" r="0.62"/><circle cx="86.68" cy="151.57" r="0.62"/><circle cx="95.95" cy="151.57" r="0.62"/><circle cx="105.22" cy="151.57" r="0.62"/><circle cx="114.49" cy="151.57" r="0.62"/><circle cx="123.76" cy="151.57" r="0.62"/><circle cx="133.04" cy="151.57" r="0.62"/><circle cx="142.31" cy="151.57" r="0.62"/><circle cx="151.58" cy="151.57" r="0.62"/><circle cx="160.85" cy="151.57" r="0.62"/></g><path d="M19.52 154.4 V140.98 A2.25 2.25 0 0 1 24.02 140.98 V154.4 Z" fill="#1f5fe0"/><path d="M28.79 154.4 V131.77 A2.25 2.25 0 0 1 33.29 131.77 V154.4 Z" fill="#2a61e1"/><path d="M38.07 154.4 V113.33 A2.25 2.25 0 0 1 42.57 113.33 V154.4 Z" fill="#3462e2"/><path d="M47.34 154.4 V122.55 A2.25 2.25 0 0 1 51.84 122.55 V154.4 Z" fill="#3c63e3"/><path d="M56.61 154.4 V104.11 A2.25 2.25 0 0 1 61.11 104.11 V154.4 Z" fill="#4564e5"/><path d="M65.88 154.4 V85.68 A2.25 2.25 0 0 1 70.38 85.68 V154.4 Z" fill="#4c65e6"/><path d="M75.15 154.4 V58.02 A2.25 2.25 0 0 1 79.65 58.02 V154.4 Z" fill="#5266e7"/><path d="M84.43 154.4 V30.37 A2.25 2.25 0 0 1 88.93 30.37 V154.4 Z" fill="#5867e8"/><path d="M93.70 154.4 V48.80 A2.25 2.25 0 0 1 98.20 48.80 V154.4 Z" fill="#6068e9"/><path d="M102.97 154.4 V85.68 A2.25 2.25 0 0 1 107.47 85.68 V154.4 Z" fill="#686aea"/><path d="M112.24 154.4 V104.11 A2.25 2.25 0 0 1 116.74 104.11 V154.4 Z" fill="#726ceb"/><path d="M121.51 154.4 V113.33 A2.25 2.25 0 0 1 126.01 113.33 V154.4 Z" fill="#7e6eec"/><path d="M130.79 154.4 V131.77 A2.25 2.25 0 0 1 135.29 131.77 V154.4 Z" fill="#8c70ee"/><path d="M140.06 154.4 V131.77 A2.25 2.25 0 0 1 144.56 131.77 V154.4 Z" fill="#9872ef"/><path d="M149.33 154.4 V140.98 A2.25 2.25 0 0 1 153.83 140.98 V154.4 Z" fill="#a374f0"/><circle cx="21.77" cy="133.13" r="2.95" fill="#fff" stroke="#cdcac2" stroke-width="0.6"/><circle cx="21.77" cy="133.13" r="0.6" fill="#cfcfcf"/><circle cx="31.04" cy="123.92" r="2.95" fill="#fff" stroke="#cdcac2" stroke-width="0.6"/><circle cx="31.04" cy="123.92" r="0.6" fill="#cfcfcf"/><circle cx="40.32" cy="105.48" r="2.95" fill="#fff" stroke="#cdcac2" stroke-width="0.6"/><circle cx="40.32" cy="105.48" r="0.6" fill="#cfcfcf"/><circle cx="49.59" cy="114.70" r="2.95" fill="#fff" stroke="#cdcac2" stroke-width="0.6"/><circle cx="49.59" cy="114.70" r="0.6" fill="#cfcfcf"/><circle cx="58.86" cy="96.26" r="2.95" fill="#fff" stroke="#cdcac2" stroke-width="0.6"/><circle cx="58.86" cy="96.26" r="0.6" fill="#cfcfcf"/><circle cx="68.13" cy="77.83" r="2.95" fill="#fff" stroke="#cdcac2" stroke-width="0.6"/><circle cx="68.13" cy="77.83" r="0.6" fill="#cfcfcf"/><circle cx="77.40" cy="50.17" r="2.95" fill="#fff" stroke="#cdcac2" stroke-width="0.6"/><circle cx="77.40" cy="50.17" r="0.6" fill="#cfcfcf"/><circle cx="86.68" cy="22.52" r="2.95" fill="#fff" stroke="#cdcac2" stroke-width="0.6"/><circle cx="86.68" cy="22.52" r="0.6" fill="#cfcfcf"/><circle cx="95.95" cy="40.95" r="2.95" fill="#fff" stroke="#cdcac2" stroke-width="0.6"/><circle cx="95.95" cy="40.95" r="0.6" fill="#cfcfcf"/><circle cx="105.22" cy="77.83" r="2.95" fill="#fff" stroke="#cdcac2" stroke-width="0.6"/><circle cx="105.22" cy="77.83" r="0.6" fill="#cfcfcf"/><circle cx="114.49" cy="96.26" r="2.95" fill="#fff" stroke="#cdcac2" stroke-width="0.6"/><circle cx="114.49" cy="96.26" r="0.6" fill="#cfcfcf"/><circle cx="123.76" cy="105.48" r="2.95" fill="#fff" stroke="#cdcac2" stroke-width="0.6"/><circle cx="123.76" cy="105.48" r="0.6" fill="#cfcfcf"/><circle cx="133.04" cy="123.92" r="2.95" fill="#fff" stroke="#cdcac2" stroke-width="0.6"/><circle cx="133.04" cy="123.92" r="0.6" fill="#cfcfcf"/><circle cx="142.31" cy="123.92" r="2.95" fill="#fff" stroke="#cdcac2" stroke-width="0.6"/><circle cx="142.31" cy="123.92" r="0.6" fill="#cfcfcf"/><circle cx="151.58" cy="133.13" r="2.95" fill="#fff" stroke="#cdcac2" stroke-width="0.6"/><circle cx="151.58" cy="133.13" r="0.6" fill="#cfcfcf"/></svg>
<span class="t" style="font-size:4.1px;line-height:4.92px;color:#2a2a2a;transform:translate(24.8px,284.2px) matrix(1,0.0005,0,1,0,0);white-space:pre;">Licensed Materials - Property of IBM Corp. © Copyright IBM Corporation and its licensors 1989, 2022.   IBM, IBM logo, ibm.com, and SPSS are trademarks or registered</span>
<span class="t" style="font-size:4.1px;line-height:4.92px;color:#2a2a2a;transform:translate(24.8px,289.03px) matrix(1,0.0005,0,1,0,0);white-space:pre;">trademarks of International Business Machines Corp., registered in many jurisdictions worldwide.  A current list of IBM trademarks is available on the Web at www.ibm.</span>
<span class="t" style="font-size:4.1px;line-height:4.92px;color:#2a2a2a;transform:translate(24.8px,293.86px) matrix(1,0.0005,0,1,0,0);white-space:pre;">com/legal/copytrade.shtml.  Other product and service names might be trademarks of IBM or other companies. This Program is licensed under the terms of the license</span>
<span class="t" style="font-size:4.1px;line-height:4.92px;color:#2a2a2a;transform:translate(24.8px,298.69px) matrix(1,0.0005,0,1,0,0);white-space:pre;">agreement accompanying the Program.  This license agreement may be either located in a Program directory folder or library identified as "License" or</span>
<span class="t" style="font-size:4.1px;line-height:4.92px;color:#2a2a2a;transform:translate(24.8px,303.52px) matrix(1,0.0005,0,1,0,0);white-space:pre;">"Non_IBM_License", if applicable, or provided as a printed license agreement. Please read the agreement carefully before using the Program. By using the Program you</span>
<span class="t" style="font-size:4.1px;line-height:4.92px;color:#2a2a2a;transform:translate(24.8px,308.35px) matrix(1,0.0005,0,1,0,0);white-space:pre;">agree to these terms.</span>
<svg class="r" style="left:0;top:0" width="340" height="540" viewBox="0 0 340 540"><line x1="36.7" x2="257" y1="461.33" y2="461.33" stroke="#d4d4d4" stroke-width="0.85"/><line x1="36.7" x2="257" y1="431.96" y2="431.96" stroke="#d4d4d4" stroke-width="0.85"/><line x1="36.7" x2="257" y1="402.59" y2="402.59" stroke="#d4d4d4" stroke-width="0.85"/><line x1="36.7" x2="257" y1="373.22" y2="373.22" stroke="#d4d4d4" stroke-width="0.85"/><line x1="36.7" x2="257" y1="343.85" y2="343.85" stroke="#d4d4d4" stroke-width="0.85"/><rect x="72.47" y="461.33" width="16.58" height="29.37" fill="#2fa9f8" stroke="#a7b4bd" stroke-width="0.7"/><rect x="89.06" y="476.01" width="16.58" height="14.68" fill="#2fa9f8" stroke="#a7b4bd" stroke-width="0.7"/><rect x="105.64" y="423.15" width="16.58" height="67.55" fill="#2fa9f8" stroke="#a7b4bd" stroke-width="0.7"/><rect x="122.22" y="417.27" width="16.58" height="73.42" fill="#2fa9f8" stroke="#a7b4bd" stroke-width="0.7"/><rect x="138.81" y="446.64" width="16.58" height="44.05" fill="#2fa9f8" stroke="#a7b4bd" stroke-width="0.7"/><rect x="155.39" y="352.66" width="16.58" height="138.04" fill="#2fa9f8" stroke="#a7b4bd" stroke-width="0.7"/><rect x="171.97" y="476.01" width="16.58" height="14.68" fill="#2fa9f8" stroke="#a7b4bd" stroke-width="0.7"/><rect x="188.56" y="470.14" width="16.58" height="20.56" fill="#2fa9f8" stroke="#a7b4bd" stroke-width="0.7"/><rect x="205.14" y="487.76" width="16.58" height="2.94" fill="#2fa9f8" stroke="#a7b4bd" stroke-width="0.7"/><rect x="221.72" y="487.76" width="16.58" height="2.94" fill="#2fa9f8" stroke="#a7b4bd" stroke-width="0.7"/><line x1="36.7" x2="36.7" y1="336.3" y2="491.09999999999997" stroke="#8f8f8f" stroke-width="0.8"/><line x1="36.7" x2="257" y1="490.7" y2="490.7" stroke="#8f8f8f" stroke-width="0.8"/><polyline points="37.35,490.21 39.01,490.16 40.67,490.09 42.33,490.01 43.98,489.92 45.64,489.82 47.30,489.69 48.96,489.55 50.62,489.39 52.27,489.20 53.93,488.98 55.59,488.74 57.25,488.46 58.91,488.14 60.57,487.77 62.22,487.37 63.88,486.91 65.54,486.39 67.20,485.82 68.86,485.18 70.52,484.47 72.17,483.69 73.83,482.83 75.49,481.88 77.15,480.84 78.81,479.71 80.47,478.48 82.12,477.15 83.78,475.71 85.44,474.16 87.10,472.51 88.76,470.74 90.42,468.87 92.07,466.88 93.73,464.78 95.39,462.58 97.05,460.28 98.71,457.88 100.37,455.39 102.02,452.82 103.68,450.17 105.34,447.46 107.00,444.70 108.66,441.91 110.32,439.09 111.97,436.26 113.63,433.44 115.29,430.65 116.95,427.90 118.61,425.21 120.27,422.59 121.92,420.08 123.58,417.68 125.24,415.42 126.90,413.30 128.56,411.36 130.21,409.59 131.87,408.02 133.53,406.67 135.19,405.53 136.85,404.63 138.51,403.96 140.16,403.54 141.82,403.36 143.48,403.44 145.14,403.76 146.80,404.33 148.46,405.14 150.11,406.19 151.77,407.46 153.43,408.94 155.09,410.63 156.75,412.50 158.41,414.55 160.06,416.76 161.72,419.11 163.38,421.58 165.04,424.15 166.70,426.81 168.36,429.54 170.01,432.32 171.67,435.13 173.33,437.96 174.99,440.78 176.65,443.59 178.31,446.36 179.96,449.09 181.62,451.77 183.28,454.37 184.94,456.89 186.60,459.33 188.26,461.67 189.91,463.92 191.57,466.06 193.23,468.09 194.89,470.01 196.55,471.82 198.21,473.52 199.86,475.10 201.52,476.58 203.18,477.96 204.84,479.23 206.50,480.40 208.16,481.47 209.81,482.46 211.47,483.35 213.13,484.17 214.79,484.91 216.45,485.57 218.10,486.17 219.76,486.71 221.42,487.19 223.08,487.62 224.74,488.00 226.40,488.33 228.05,488.63 229.71,488.89 231.37,489.12 233.03,489.32 234.69,489.49 236.35,489.64 238.00,489.77 239.66,489.88 241.32,489.98 242.98,490.06 244.64,490.13 246.30,490.19 247.95,490.24 249.61,490.29 251.27,490.32 252.93,490.35 254.59,490.38 256.25,490.40" fill="none" stroke="#0a0a0a" stroke-width="1.35" stroke-linejoin="round"/></svg>
<span class="t" style="font-size:4.4px;line-height:5.28px;color:#111;transform:translate(34.8px,488.95px) translateX(-100%) matrix(1,0.0005,0,1,0,0);-webkit-text-stroke:0.1px #111;">0</span>
<span class="t" style="font-size:4.4px;line-height:5.28px;color:#111;transform:translate(34.8px,459.58px) translateX(-100%) matrix(1,0.0005,0,1,0,0);-webkit-text-stroke:0.1px #111;">10</span>
<span class="t" style="font-size:4.4px;line-height:5.28px;color:#111;transform:translate(34.8px,430.21px) translateX(-100%) matrix(1,0.0005,0,1,0,0);-webkit-text-stroke:0.1px #111;">20</span>
<span class="t" style="font-size:4.4px;line-height:5.28px;color:#111;transform:translate(34.8px,400.84px) translateX(-100%) matrix(1,0.0005,0,1,0,0);-webkit-text-stroke:0.1px #111;">30</span>
<span class="t" style="font-size:4.4px;line-height:5.28px;color:#111;transform:translate(34.8px,371.47px) translateX(-100%) matrix(1,0.0005,0,1,0,0);-webkit-text-stroke:0.1px #111;">40</span>
<span class="t" style="font-size:4.4px;line-height:5.28px;color:#111;transform:translate(34.8px,342.1px) translateX(-100%) matrix(1,0.0005,0,1,0,0);-webkit-text-stroke:0.1px #111;">50</span>
<span class="t" style="font-size:4.3px;line-height:5.16px;color:#111;transform:translate(46.9px,492.96px) translateX(-50%) matrix(1,0.0005,0,1,0,0);-webkit-text-stroke:0.1px #111;">8</span>
<span class="t" style="font-size:4.3px;line-height:5.16px;color:#111;transform:translate(80.07px,492.96px) translateX(-50%) matrix(1,0.0005,0,1,0,0);-webkit-text-stroke:0.1px #111;">10</span>
<span class="t" style="font-size:4.3px;line-height:5.16px;color:#111;transform:translate(113.23px,492.96px) translateX(-50%) matrix(1,0.0005,0,1,0,0);-webkit-text-stroke:0.1px #111;">12</span>
<span class="t" style="font-size:4.3px;line-height:5.16px;color:#111;transform:translate(146.4px,492.96px) translateX(-50%) matrix(1,0.0005,0,1,0,0);-webkit-text-stroke:0.1px #111;">14</span>
<span class="t" style="font-size:4.3px;line-height:5.16px;color:#111;transform:translate(179.56px,492.96px) translateX(-50%) matrix(1,0.0005,0,1,0,0);-webkit-text-stroke:0.1px #111;">16</span>
<span class="t" style="font-size:4.3px;line-height:5.16px;color:#111;transform:translate(212.73px,492.96px) translateX(-50%) matrix(1,0.0005,0,1,0,0);-webkit-text-stroke:0.1px #111;">18</span>
<span class="t" style="font-size:4.3px;line-height:5.16px;color:#111;transform:translate(245.9px,492.96px) translateX(-50%) matrix(1,0.0005,0,1,0,0);-webkit-text-stroke:0.1px #111;">20</span>
<span class="t" style="font-size:5.9px;line-height:7.08px;color:#000;font-weight:bold;transform:translate(175.6px,327.93px) translateX(-50%) matrix(1,0.0005,0,1,0,0);-webkit-text-stroke:0.15px #000;">X1</span>
<span class="t" style="font-size:5.7px;line-height:6.84px;color:#000;font-weight:bold;transform:translate(146.6px,503.74px) translateX(-50%) matrix(1,0.0005,0,1,0,0);-webkit-text-stroke:0.15px #000;">X1</span>
<span class="t" style="left:20.9px;top:413.9px;font-size:6.3px;line-height:8px;color:#111;font-weight:bold;transform-origin:50% 50%;transform:translate(-50%,-50%) rotate(-90.03deg);">Frequency</span>
<span class="t" style="font-size:4.17px;line-height:5.0px;color:#000;transform:translate(259.6px,343.75px) matrix(1,0.0005,0,1,0,0);-webkit-text-stroke:0.05px #000;">Mean = 13.72</span>
<span class="t" style="font-size:4.17px;line-height:5.0px;color:#000;transform:translate(259.6px,348.3px) matrix(1,0.0005,0,1,0,0);-webkit-text-stroke:0.05px #000;">Std. Dev. = 1.869</span>
<span class="t" style="font-size:4.17px;line-height:5.0px;color:#000;transform:translate(259.6px,352.85px) matrix(1,0.0005,0,1,0,0);-webkit-text-stroke:0.05px #000;">N = 139</span>
</div></body></html>
